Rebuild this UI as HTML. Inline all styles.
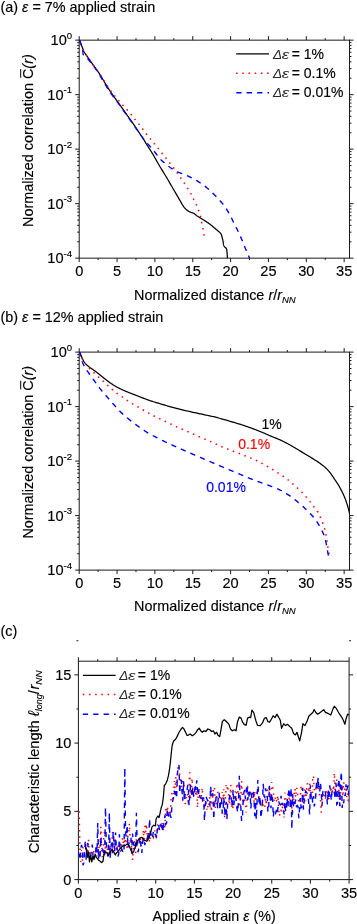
<!DOCTYPE html><html><head><meta charset="utf-8"><style>html,body{margin:0;padding:0;background:#fff;}svg{display:block;will-change:transform;}text{font-family:"Liberation Sans",sans-serif;stroke:#000;stroke-width:0.15px;}text[fill="#ff0000"]{stroke:#ff0000;}text[fill="#0000ff"]{stroke:#0000ff;}text[fill="#2a2a2a"]{stroke:none;}</style></head><body>
<svg width="357" height="924" viewBox="0 0 357 924">
<rect width="357" height="924" fill="#fff"/>
<defs><clipPath id="ca"><rect x="79.2" y="40.15" width="270.3" height="218.0"/></clipPath><clipPath id="cb"><rect x="79.2" y="352.1" width="270.3" height="218.0"/></clipPath><clipPath id="cc"><rect x="78.4" y="661.2" width="270.69000000000005" height="218.39999999999998"/></clipPath></defs>
<text x="0.50" y="12.10" font-size="14.4" text-anchor="start" fill="#000">(a) <tspan font-style="italic">ε</tspan> = 7% applied strain</text>
<rect x="79.20" y="40.15" width="270.30" height="218.00" fill="none" stroke="#1a1a1a" stroke-width="1"/>
<line x1="79.20" y1="258.15" x2="79.20" y2="262.15" stroke="#1a1a1a" stroke-width="1"/>
<line x1="79.20" y1="40.15" x2="79.20" y2="36.15" stroke="#1a1a1a" stroke-width="1"/>
<line x1="117.05" y1="258.15" x2="117.05" y2="262.15" stroke="#1a1a1a" stroke-width="1"/>
<line x1="117.05" y1="40.15" x2="117.05" y2="36.15" stroke="#1a1a1a" stroke-width="1"/>
<line x1="154.90" y1="258.15" x2="154.90" y2="262.15" stroke="#1a1a1a" stroke-width="1"/>
<line x1="154.90" y1="40.15" x2="154.90" y2="36.15" stroke="#1a1a1a" stroke-width="1"/>
<line x1="192.75" y1="258.15" x2="192.75" y2="262.15" stroke="#1a1a1a" stroke-width="1"/>
<line x1="192.75" y1="40.15" x2="192.75" y2="36.15" stroke="#1a1a1a" stroke-width="1"/>
<line x1="230.60" y1="258.15" x2="230.60" y2="262.15" stroke="#1a1a1a" stroke-width="1"/>
<line x1="230.60" y1="40.15" x2="230.60" y2="36.15" stroke="#1a1a1a" stroke-width="1"/>
<line x1="268.45" y1="258.15" x2="268.45" y2="262.15" stroke="#1a1a1a" stroke-width="1"/>
<line x1="268.45" y1="40.15" x2="268.45" y2="36.15" stroke="#1a1a1a" stroke-width="1"/>
<line x1="306.30" y1="258.15" x2="306.30" y2="262.15" stroke="#1a1a1a" stroke-width="1"/>
<line x1="306.30" y1="40.15" x2="306.30" y2="36.15" stroke="#1a1a1a" stroke-width="1"/>
<line x1="344.15" y1="258.15" x2="344.15" y2="262.15" stroke="#1a1a1a" stroke-width="1"/>
<line x1="344.15" y1="40.15" x2="344.15" y2="36.15" stroke="#1a1a1a" stroke-width="1"/>
<line x1="98.12" y1="258.15" x2="98.12" y2="260.15" stroke="#1a1a1a" stroke-width="1"/>
<line x1="98.12" y1="40.15" x2="98.12" y2="38.15" stroke="#1a1a1a" stroke-width="1"/>
<line x1="135.98" y1="258.15" x2="135.98" y2="260.15" stroke="#1a1a1a" stroke-width="1"/>
<line x1="135.98" y1="40.15" x2="135.98" y2="38.15" stroke="#1a1a1a" stroke-width="1"/>
<line x1="173.82" y1="258.15" x2="173.82" y2="260.15" stroke="#1a1a1a" stroke-width="1"/>
<line x1="173.82" y1="40.15" x2="173.82" y2="38.15" stroke="#1a1a1a" stroke-width="1"/>
<line x1="211.68" y1="258.15" x2="211.68" y2="260.15" stroke="#1a1a1a" stroke-width="1"/>
<line x1="211.68" y1="40.15" x2="211.68" y2="38.15" stroke="#1a1a1a" stroke-width="1"/>
<line x1="249.53" y1="258.15" x2="249.53" y2="260.15" stroke="#1a1a1a" stroke-width="1"/>
<line x1="249.53" y1="40.15" x2="249.53" y2="38.15" stroke="#1a1a1a" stroke-width="1"/>
<line x1="287.38" y1="258.15" x2="287.38" y2="260.15" stroke="#1a1a1a" stroke-width="1"/>
<line x1="287.38" y1="40.15" x2="287.38" y2="38.15" stroke="#1a1a1a" stroke-width="1"/>
<line x1="325.23" y1="258.15" x2="325.23" y2="260.15" stroke="#1a1a1a" stroke-width="1"/>
<line x1="325.23" y1="40.15" x2="325.23" y2="38.15" stroke="#1a1a1a" stroke-width="1"/>
<line x1="79.20" y1="40.15" x2="75.20" y2="40.15" stroke="#1a1a1a" stroke-width="1"/>
<line x1="349.50" y1="40.15" x2="353.50" y2="40.15" stroke="#1a1a1a" stroke-width="1"/>
<line x1="79.20" y1="94.65" x2="75.20" y2="94.65" stroke="#1a1a1a" stroke-width="1"/>
<line x1="349.50" y1="94.65" x2="353.50" y2="94.65" stroke="#1a1a1a" stroke-width="1"/>
<line x1="79.20" y1="149.15" x2="75.20" y2="149.15" stroke="#1a1a1a" stroke-width="1"/>
<line x1="349.50" y1="149.15" x2="353.50" y2="149.15" stroke="#1a1a1a" stroke-width="1"/>
<line x1="79.20" y1="203.65" x2="75.20" y2="203.65" stroke="#1a1a1a" stroke-width="1"/>
<line x1="349.50" y1="203.65" x2="353.50" y2="203.65" stroke="#1a1a1a" stroke-width="1"/>
<line x1="79.20" y1="258.15" x2="75.20" y2="258.15" stroke="#1a1a1a" stroke-width="1"/>
<line x1="349.50" y1="258.15" x2="353.50" y2="258.15" stroke="#1a1a1a" stroke-width="1"/>
<line x1="79.20" y1="78.24" x2="77.20" y2="78.24" stroke="#1a1a1a" stroke-width="1"/>
<line x1="349.50" y1="78.24" x2="351.50" y2="78.24" stroke="#1a1a1a" stroke-width="1"/>
<line x1="79.20" y1="68.65" x2="77.20" y2="68.65" stroke="#1a1a1a" stroke-width="1"/>
<line x1="349.50" y1="68.65" x2="351.50" y2="68.65" stroke="#1a1a1a" stroke-width="1"/>
<line x1="79.20" y1="61.84" x2="77.20" y2="61.84" stroke="#1a1a1a" stroke-width="1"/>
<line x1="349.50" y1="61.84" x2="351.50" y2="61.84" stroke="#1a1a1a" stroke-width="1"/>
<line x1="79.20" y1="56.56" x2="77.20" y2="56.56" stroke="#1a1a1a" stroke-width="1"/>
<line x1="349.50" y1="56.56" x2="351.50" y2="56.56" stroke="#1a1a1a" stroke-width="1"/>
<line x1="79.20" y1="52.24" x2="77.20" y2="52.24" stroke="#1a1a1a" stroke-width="1"/>
<line x1="349.50" y1="52.24" x2="351.50" y2="52.24" stroke="#1a1a1a" stroke-width="1"/>
<line x1="79.20" y1="48.59" x2="77.20" y2="48.59" stroke="#1a1a1a" stroke-width="1"/>
<line x1="349.50" y1="48.59" x2="351.50" y2="48.59" stroke="#1a1a1a" stroke-width="1"/>
<line x1="79.20" y1="45.43" x2="77.20" y2="45.43" stroke="#1a1a1a" stroke-width="1"/>
<line x1="349.50" y1="45.43" x2="351.50" y2="45.43" stroke="#1a1a1a" stroke-width="1"/>
<line x1="79.20" y1="42.64" x2="77.20" y2="42.64" stroke="#1a1a1a" stroke-width="1"/>
<line x1="349.50" y1="42.64" x2="351.50" y2="42.64" stroke="#1a1a1a" stroke-width="1"/>
<line x1="79.20" y1="132.74" x2="77.20" y2="132.74" stroke="#1a1a1a" stroke-width="1"/>
<line x1="349.50" y1="132.74" x2="351.50" y2="132.74" stroke="#1a1a1a" stroke-width="1"/>
<line x1="79.20" y1="123.15" x2="77.20" y2="123.15" stroke="#1a1a1a" stroke-width="1"/>
<line x1="349.50" y1="123.15" x2="351.50" y2="123.15" stroke="#1a1a1a" stroke-width="1"/>
<line x1="79.20" y1="116.34" x2="77.20" y2="116.34" stroke="#1a1a1a" stroke-width="1"/>
<line x1="349.50" y1="116.34" x2="351.50" y2="116.34" stroke="#1a1a1a" stroke-width="1"/>
<line x1="79.20" y1="111.06" x2="77.20" y2="111.06" stroke="#1a1a1a" stroke-width="1"/>
<line x1="349.50" y1="111.06" x2="351.50" y2="111.06" stroke="#1a1a1a" stroke-width="1"/>
<line x1="79.20" y1="106.74" x2="77.20" y2="106.74" stroke="#1a1a1a" stroke-width="1"/>
<line x1="349.50" y1="106.74" x2="351.50" y2="106.74" stroke="#1a1a1a" stroke-width="1"/>
<line x1="79.20" y1="103.09" x2="77.20" y2="103.09" stroke="#1a1a1a" stroke-width="1"/>
<line x1="349.50" y1="103.09" x2="351.50" y2="103.09" stroke="#1a1a1a" stroke-width="1"/>
<line x1="79.20" y1="99.93" x2="77.20" y2="99.93" stroke="#1a1a1a" stroke-width="1"/>
<line x1="349.50" y1="99.93" x2="351.50" y2="99.93" stroke="#1a1a1a" stroke-width="1"/>
<line x1="79.20" y1="97.14" x2="77.20" y2="97.14" stroke="#1a1a1a" stroke-width="1"/>
<line x1="349.50" y1="97.14" x2="351.50" y2="97.14" stroke="#1a1a1a" stroke-width="1"/>
<line x1="79.20" y1="187.24" x2="77.20" y2="187.24" stroke="#1a1a1a" stroke-width="1"/>
<line x1="349.50" y1="187.24" x2="351.50" y2="187.24" stroke="#1a1a1a" stroke-width="1"/>
<line x1="79.20" y1="177.65" x2="77.20" y2="177.65" stroke="#1a1a1a" stroke-width="1"/>
<line x1="349.50" y1="177.65" x2="351.50" y2="177.65" stroke="#1a1a1a" stroke-width="1"/>
<line x1="79.20" y1="170.84" x2="77.20" y2="170.84" stroke="#1a1a1a" stroke-width="1"/>
<line x1="349.50" y1="170.84" x2="351.50" y2="170.84" stroke="#1a1a1a" stroke-width="1"/>
<line x1="79.20" y1="165.56" x2="77.20" y2="165.56" stroke="#1a1a1a" stroke-width="1"/>
<line x1="349.50" y1="165.56" x2="351.50" y2="165.56" stroke="#1a1a1a" stroke-width="1"/>
<line x1="79.20" y1="161.24" x2="77.20" y2="161.24" stroke="#1a1a1a" stroke-width="1"/>
<line x1="349.50" y1="161.24" x2="351.50" y2="161.24" stroke="#1a1a1a" stroke-width="1"/>
<line x1="79.20" y1="157.59" x2="77.20" y2="157.59" stroke="#1a1a1a" stroke-width="1"/>
<line x1="349.50" y1="157.59" x2="351.50" y2="157.59" stroke="#1a1a1a" stroke-width="1"/>
<line x1="79.20" y1="154.43" x2="77.20" y2="154.43" stroke="#1a1a1a" stroke-width="1"/>
<line x1="349.50" y1="154.43" x2="351.50" y2="154.43" stroke="#1a1a1a" stroke-width="1"/>
<line x1="79.20" y1="151.64" x2="77.20" y2="151.64" stroke="#1a1a1a" stroke-width="1"/>
<line x1="349.50" y1="151.64" x2="351.50" y2="151.64" stroke="#1a1a1a" stroke-width="1"/>
<line x1="79.20" y1="241.74" x2="77.20" y2="241.74" stroke="#1a1a1a" stroke-width="1"/>
<line x1="349.50" y1="241.74" x2="351.50" y2="241.74" stroke="#1a1a1a" stroke-width="1"/>
<line x1="79.20" y1="232.15" x2="77.20" y2="232.15" stroke="#1a1a1a" stroke-width="1"/>
<line x1="349.50" y1="232.15" x2="351.50" y2="232.15" stroke="#1a1a1a" stroke-width="1"/>
<line x1="79.20" y1="225.34" x2="77.20" y2="225.34" stroke="#1a1a1a" stroke-width="1"/>
<line x1="349.50" y1="225.34" x2="351.50" y2="225.34" stroke="#1a1a1a" stroke-width="1"/>
<line x1="79.20" y1="220.06" x2="77.20" y2="220.06" stroke="#1a1a1a" stroke-width="1"/>
<line x1="349.50" y1="220.06" x2="351.50" y2="220.06" stroke="#1a1a1a" stroke-width="1"/>
<line x1="79.20" y1="215.74" x2="77.20" y2="215.74" stroke="#1a1a1a" stroke-width="1"/>
<line x1="349.50" y1="215.74" x2="351.50" y2="215.74" stroke="#1a1a1a" stroke-width="1"/>
<line x1="79.20" y1="212.09" x2="77.20" y2="212.09" stroke="#1a1a1a" stroke-width="1"/>
<line x1="349.50" y1="212.09" x2="351.50" y2="212.09" stroke="#1a1a1a" stroke-width="1"/>
<line x1="79.20" y1="208.93" x2="77.20" y2="208.93" stroke="#1a1a1a" stroke-width="1"/>
<line x1="349.50" y1="208.93" x2="351.50" y2="208.93" stroke="#1a1a1a" stroke-width="1"/>
<line x1="79.20" y1="206.14" x2="77.20" y2="206.14" stroke="#1a1a1a" stroke-width="1"/>
<line x1="349.50" y1="206.14" x2="351.50" y2="206.14" stroke="#1a1a1a" stroke-width="1"/>
<text y="45.05" x="72.1" font-size="14.6" text-anchor="end">10<tspan font-size="9.6" dy="-6.3">0</tspan></text>
<text y="99.55" x="72.1" font-size="14.6" text-anchor="end">10<tspan font-size="9.6" dy="-6.3">-1</tspan></text>
<text y="154.05" x="72.1" font-size="14.6" text-anchor="end">10<tspan font-size="9.6" dy="-6.3">-2</tspan></text>
<text y="208.55" x="72.1" font-size="14.6" text-anchor="end">10<tspan font-size="9.6" dy="-6.3">-3</tspan></text>
<text y="263.05" x="72.1" font-size="14.6" text-anchor="end">10<tspan font-size="9.6" dy="-6.3">-4</tspan></text>
<text x="79.20" y="276.40" font-size="14.6" text-anchor="middle" fill="#000">0</text>
<text x="117.05" y="276.40" font-size="14.6" text-anchor="middle" fill="#000">5</text>
<text x="154.90" y="276.40" font-size="14.6" text-anchor="middle" fill="#000">10</text>
<text x="192.75" y="276.40" font-size="14.6" text-anchor="middle" fill="#000">15</text>
<text x="230.60" y="276.40" font-size="14.6" text-anchor="middle" fill="#000">20</text>
<text x="268.45" y="276.40" font-size="14.6" text-anchor="middle" fill="#000">25</text>
<text x="306.30" y="276.40" font-size="14.6" text-anchor="middle" fill="#000">30</text>
<text x="344.15" y="276.40" font-size="14.6" text-anchor="middle" fill="#000">35</text>
<text x="134.00" y="299.60" font-size="14.4" text-anchor="start" fill="#000">Normalized distance <tspan font-style="italic">r</tspan>/<tspan font-style="italic">r</tspan><tspan font-size="9.5" font-style="italic" dy="3">NN</tspan></text>
<g transform="translate(33.00,227.00) rotate(-90)"><text x="0" y="0" font-size="14.4">Normalized correlation C<tspan font-style="italic">(r)</tspan></text><line x1="149.26" y1="-12.30" x2="157.86" y2="-12.30" stroke="#000" stroke-width="1"/></g>
<path d="M79.60,40.15 L79.68,40.37 L79.78,40.67 L79.90,41.02 L80.04,41.41 L80.18,41.82 L80.33,42.24 L80.47,42.64 L80.60,43.00 L80.72,43.33 L80.84,43.65 L80.96,43.96 L81.08,44.27 L81.20,44.58 L81.33,44.91 L81.46,45.24 L81.60,45.60 L81.75,45.98 L81.91,46.39 L82.07,46.80 L82.24,47.23 L82.41,47.66 L82.58,48.09 L82.74,48.50 L82.90,48.90 L83.05,49.28 L83.19,49.65 L83.32,50.00 L83.45,50.36 L83.59,50.71 L83.74,51.06 L83.91,51.43 L84.10,51.80 L84.31,52.17 L84.53,52.54 L84.76,52.91 L85.01,53.28 L85.28,53.67 L85.56,54.08 L85.87,54.52 L86.20,55.00 L86.55,55.51 L86.92,56.03 L87.31,56.58 L87.72,57.15 L88.15,57.75 L88.61,58.39 L89.09,59.07 L89.60,59.80 L90.16,60.60 L90.76,61.48 L91.41,62.41 L92.07,63.37 L92.74,64.33 L93.39,65.28 L94.02,66.17 L94.60,67.00 L95.14,67.74 L95.64,68.41 L96.12,69.04 L96.59,69.65 L97.05,70.26 L97.52,70.89 L98.00,71.56 L98.50,72.30 L99.01,73.08 L99.50,73.87 L99.99,74.67 L100.50,75.51 L101.03,76.40 L101.60,77.35 L102.22,78.38 L102.90,79.50 L103.64,80.72 L104.43,82.03 L105.25,83.41 L106.12,84.86 L107.04,86.35 L107.99,87.88 L108.97,89.44 L110.00,91.00 L111.10,92.61 L112.28,94.30 L113.51,96.05 L114.78,97.81 L116.05,99.57 L117.30,101.29 L118.49,102.94 L119.60,104.50 L120.62,105.95 L121.58,107.31 L122.50,108.60 L123.38,109.86 L124.26,111.10 L125.14,112.35 L126.05,113.65 L127.00,115.00 L128.01,116.42 L129.05,117.90 L130.12,119.40 L131.19,120.92 L132.27,122.44 L133.32,123.93 L134.33,125.39 L135.30,126.80 L136.22,128.16 L137.10,129.48 L137.96,130.77 L138.79,132.04 L139.61,133.30 L140.41,134.54 L141.21,135.77 L142.00,137.00 L142.79,138.23 L143.57,139.46 L144.35,140.68 L145.11,141.89 L145.85,143.08 L146.59,144.25 L147.30,145.39 L148.00,146.50 L148.66,147.55 L149.28,148.52 L149.87,149.45 L150.46,150.36 L151.04,151.29 L151.65,152.28 L152.30,153.33 L153.00,154.50 L153.76,155.80 L154.56,157.20 L155.41,158.68 L156.27,160.21 L157.14,161.75 L158.01,163.29 L158.87,164.78 L159.70,166.20 L160.51,167.55 L161.31,168.87 L162.10,170.17 L162.89,171.44 L163.68,172.70 L164.46,173.96 L165.23,175.22 L166.00,176.50 L166.76,177.78 L167.50,179.04 L168.23,180.30 L168.96,181.56 L169.70,182.83 L170.44,184.12 L171.21,185.44 L172.00,186.80 L172.83,188.23 L173.71,189.73 L174.61,191.27 L175.52,192.83 L176.42,194.37 L177.29,195.87 L178.13,197.29 L178.90,198.60 L179.61,199.82 L180.27,200.99 L180.88,202.10 L181.48,203.16 L182.05,204.15 L182.62,205.09 L183.20,205.98 L183.80,206.80 L184.41,207.56 L185.03,208.24 L185.64,208.87 L186.25,209.44 L186.86,209.96 L187.47,210.44 L188.09,210.88 L188.70,211.30 L189.32,211.66 L189.95,211.95 L190.58,212.19 L191.21,212.40 L191.84,212.59 L192.45,212.80 L193.04,213.02 L193.60,213.30 L194.13,213.62 L194.62,213.96 L195.09,214.31 L195.54,214.68 L196.00,215.06 L196.47,215.44 L196.97,215.82 L197.50,216.20 L198.07,216.58 L198.68,216.96 L199.30,217.35 L199.94,217.74 L200.58,218.13 L201.23,218.52 L201.87,218.91 L202.50,219.30 L203.12,219.69 L203.76,220.08 L204.39,220.47 L205.02,220.86 L205.64,221.25 L206.25,221.64 L206.84,222.02 L207.40,222.40 L207.94,222.77 L208.45,223.13 L208.94,223.48 L209.41,223.84 L209.88,224.19 L210.35,224.55 L210.82,224.92 L211.30,225.30 L211.79,225.69 L212.28,226.10 L212.77,226.51 L213.26,226.93 L213.74,227.35 L214.23,227.77 L214.72,228.19 L215.20,228.60 L215.69,229.01 L216.20,229.43 L216.71,229.85 L217.21,230.26 L217.70,230.67 L218.17,231.07 L218.61,231.44 L219.00,231.80 L219.35,232.12 L219.67,232.40 L219.95,232.66 L220.21,232.91 L220.45,233.16 L220.68,233.43 L220.89,233.74 L221.10,234.10 L221.30,234.52 L221.47,234.98 L221.64,235.48 L221.79,236.01 L221.93,236.53 L222.06,237.05 L222.18,237.54 L222.30,238.00 L222.41,238.41 L222.51,238.79 L222.60,239.14 L222.68,239.49 L222.76,239.83 L222.84,240.19 L222.92,240.58 L223.00,241.00 L223.08,241.47 L223.16,241.99 L223.24,242.54 L223.31,243.10 L223.39,243.65 L223.48,244.18 L223.58,244.67 L223.70,245.10 L223.83,245.47 L223.98,245.80 L224.14,246.10 L224.31,246.38 L224.48,246.62 L224.65,246.86 L224.83,247.08 L225.00,247.30 L225.18,247.49 L225.36,247.64 L225.55,247.76 L225.74,247.88 L225.93,248.00 L226.10,248.15 L226.26,248.34 L226.40,248.60 L226.51,248.90 L226.61,249.23 L226.69,249.58 L226.76,249.97 L226.82,250.40 L226.88,250.88 L226.94,251.41 L227.00,252.00 L227.07,252.72 L227.14,253.58 L227.22,254.53 L227.29,255.51 L227.35,256.47 L227.41,257.34 L227.46,258.07 L227.50,258.60" fill="none" stroke="#000000" stroke-width="1.25" stroke-linejoin="round" clip-path="url(#ca)"/>
<path d="M204.20,235.50 L204.18,235.43 L204.16,235.38 L204.14,235.32 L204.12,235.23 L204.08,235.10 L204.04,234.89 L203.98,234.60 L203.90,234.20 L203.80,233.67 L203.68,233.01 L203.55,232.27 L203.41,231.46 L203.25,230.61 L203.10,229.74 L202.95,228.90 L202.80,228.10 L202.66,227.33 L202.51,226.56 L202.36,225.78 L202.21,225.01 L202.06,224.23 L201.91,223.45 L201.76,222.68 L201.60,221.90 L201.45,221.12 L201.30,220.34 L201.15,219.56 L200.99,218.78 L200.84,218.00 L200.67,217.23 L200.49,216.46 L200.30,215.70 L200.09,214.95 L199.88,214.20 L199.65,213.46 L199.42,212.73 L199.18,211.99 L198.92,211.26 L198.67,210.53 L198.40,209.80 L198.13,209.07 L197.84,208.34 L197.55,207.61 L197.26,206.88 L196.95,206.16 L196.64,205.43 L196.32,204.71 L196.00,204.00 L195.67,203.29 L195.32,202.58 L194.97,201.87 L194.61,201.17 L194.25,200.47 L193.90,199.77 L193.54,199.08 L193.20,198.40 L192.87,197.72 L192.55,197.06 L192.25,196.39 L191.94,195.74 L191.62,195.08 L191.30,194.43 L190.96,193.77 L190.60,193.10 L190.21,192.43 L189.81,191.76 L189.39,191.08 L188.96,190.41 L188.52,189.73 L188.08,189.05 L187.64,188.38 L187.20,187.70 L186.77,187.02 L186.33,186.34 L185.89,185.65 L185.45,184.97 L185.01,184.29 L184.57,183.61 L184.13,182.95 L183.70,182.30 L183.27,181.67 L182.85,181.06 L182.44,180.46 L182.03,179.86 L181.61,179.27 L181.18,178.66 L180.75,178.04 L180.30,177.40 L179.84,176.73 L179.36,176.05 L178.87,175.35 L178.38,174.64 L177.88,173.92 L177.39,173.21 L176.89,172.50 L176.40,171.80 L175.94,171.14 L175.52,170.52 L175.11,169.92 L174.70,169.31 L174.26,168.67 L173.76,167.98 L173.18,167.19 L172.50,166.30 L171.70,165.28 L170.80,164.15 L169.83,162.94 L168.79,161.67 L167.73,160.36 L166.66,159.05 L165.61,157.75 L164.60,156.50 L163.63,155.28 L162.67,154.07 L161.72,152.86 L160.76,151.66 L159.80,150.44 L158.83,149.21 L157.83,147.97 L156.80,146.70 L155.73,145.39 L154.60,144.05 L153.45,142.68 L152.28,141.30 L151.12,139.93 L150.00,138.58 L148.91,137.26 L147.90,136.00 L146.95,134.78 L146.06,133.60 L145.20,132.43 L144.38,131.30 L143.58,130.19 L142.79,129.10 L142.00,128.04 L141.20,127.00 L140.40,125.99 L139.60,125.01 L138.81,124.06 L138.03,123.13 L137.26,122.22 L136.50,121.31 L135.74,120.41 L135.00,119.50 L134.30,118.62 L133.65,117.77 L133.02,116.95 L132.40,116.13 L131.75,115.29 L131.05,114.40 L130.28,113.44 L129.40,112.40 L128.40,111.25 L127.28,110.01 L126.09,108.70 L124.85,107.35 L123.59,105.98 L122.34,104.61 L121.13,103.28 L120.00,102.00 L118.93,100.78 L117.88,99.59 L116.86,98.42 L115.86,97.26 L114.87,96.10 L113.90,94.92 L112.95,93.73 L112.00,92.50 L111.06,91.23 L110.15,89.93 L109.24,88.60 L108.35,87.26 L107.47,85.92 L106.60,84.59 L105.75,83.28 L104.90,82.00 L104.05,80.72 L103.19,79.42 L102.34,78.11 L101.50,76.82 L100.69,75.58 L99.91,74.40 L99.18,73.30 L98.50,72.30 L97.90,71.44 L97.37,70.71 L96.90,70.07 L96.46,69.49 L96.03,68.93 L95.59,68.36 L95.12,67.72 L94.60,67.00 L94.02,66.17 L93.39,65.28 L92.74,64.33 L92.07,63.37 L91.41,62.41 L90.76,61.48 L90.16,60.60 L89.60,59.80 L89.09,59.07 L88.61,58.39 L88.15,57.75 L87.72,57.15 L87.31,56.58 L86.92,56.03 L86.55,55.51 L86.20,55.00 L85.87,54.52 L85.56,54.08 L85.28,53.67 L85.01,53.28 L84.76,52.91 L84.53,52.54 L84.31,52.17 L84.10,51.80 L83.91,51.43 L83.74,51.06 L83.59,50.71 L83.45,50.36 L83.32,50.00 L83.19,49.65 L83.05,49.28 L82.90,48.90 L82.74,48.50 L82.58,48.09 L82.41,47.66 L82.24,47.23 L82.07,46.80 L81.91,46.39 L81.75,45.98 L81.60,45.60 L81.46,45.24 L81.33,44.91 L81.20,44.58 L81.08,44.27 L80.96,43.96 L80.84,43.65 L80.72,43.33 L80.60,43.00 L80.47,42.64 L80.33,42.24 L80.18,41.82 L80.04,41.41 L79.90,41.02 L79.78,40.67 L79.68,40.37 L79.60,40.15" fill="none" stroke="#ff0000" stroke-width="1.5" stroke-dasharray="1.5 4.7" clip-path="url(#ca)"/>
<path d="M79.60,40.15 L79.69,40.41 L79.81,40.74 L79.95,41.15 L80.11,41.59 L80.28,42.07 L80.45,42.56 L80.63,43.04 L80.80,43.50 L80.98,43.95 L81.18,44.40 L81.38,44.86 L81.59,45.32 L81.80,45.79 L81.99,46.26 L82.16,46.73 L82.30,47.20 L82.41,47.67 L82.50,48.15 L82.56,48.63 L82.61,49.11 L82.66,49.59 L82.70,50.06 L82.74,50.53 L82.80,51.00 L82.85,51.47 L82.90,51.96 L82.93,52.45 L82.97,52.93 L83.02,53.40 L83.09,53.84 L83.18,54.24 L83.30,54.60 L83.45,54.90 L83.62,55.15 L83.81,55.35 L84.02,55.54 L84.25,55.71 L84.49,55.88 L84.74,56.08 L85.00,56.30 L85.27,56.53 L85.54,56.76 L85.82,56.98 L86.12,57.21 L86.43,57.47 L86.76,57.76 L87.12,58.10 L87.50,58.50 L87.92,58.97 L88.37,59.51 L88.85,60.10 L89.35,60.73 L89.85,61.36 L90.35,62.00 L90.84,62.62 L91.30,63.20 L91.73,63.73 L92.13,64.23 L92.53,64.71 L92.91,65.19 L93.30,65.69 L93.71,66.21 L94.14,66.77 L94.60,67.40 L95.09,68.08 L95.61,68.79 L96.14,69.54 L96.69,70.32 L97.26,71.13 L97.83,71.99 L98.41,72.87 L99.00,73.80 L99.58,74.76 L100.16,75.76 L100.74,76.79 L101.34,77.86 L101.95,78.97 L102.60,80.11 L103.28,81.29 L104.00,82.50 L104.77,83.76 L105.57,85.08 L106.41,86.43 L107.27,87.83 L108.17,89.24 L109.09,90.66 L110.03,92.09 L111.00,93.50 L112.01,94.92 L113.07,96.36 L114.16,97.82 L115.28,99.28 L116.39,100.74 L117.50,102.18 L118.57,103.61 L119.60,105.00 L120.58,106.35 L121.51,107.66 L122.42,108.95 L123.32,110.23 L124.21,111.51 L125.11,112.81 L126.04,114.13 L127.00,115.50 L128.02,116.95 L129.10,118.48 L130.20,120.05 L131.32,121.64 L132.41,123.19 L133.46,124.68 L134.43,126.06 L135.30,127.30 L136.05,128.37 L136.70,129.31 L137.27,130.14 L137.79,130.90 L138.30,131.63 L138.82,132.37 L139.37,133.14 L140.00,134.00 L140.68,134.92 L141.39,135.87 L142.12,136.84 L142.87,137.83 L143.63,138.83 L144.41,139.82 L145.20,140.82 L146.00,141.80 L146.80,142.76 L147.62,143.70 L148.44,144.64 L149.28,145.58 L150.13,146.53 L151.00,147.51 L151.89,148.53 L152.80,149.60 L153.74,150.75 L154.70,151.98 L155.69,153.26 L156.69,154.56 L157.70,155.85 L158.71,157.11 L159.71,158.30 L160.70,159.40 L161.68,160.41 L162.65,161.38 L163.63,162.29 L164.60,163.16 L165.57,163.99 L166.55,164.78 L167.52,165.55 L168.50,166.30 L169.50,167.03 L170.52,167.72 L171.56,168.39 L172.59,169.03 L173.60,169.63 L174.58,170.20 L175.52,170.72 L176.40,171.20 L177.21,171.62 L177.95,171.97 L178.65,172.28 L179.31,172.55 L179.96,172.80 L180.62,173.05 L181.29,173.31 L182.00,173.60 L182.71,173.89 L183.40,174.15 L184.09,174.41 L184.79,174.67 L185.52,174.95 L186.30,175.28 L187.16,175.65 L188.10,176.10 L189.16,176.63 L190.33,177.22 L191.59,177.87 L192.89,178.56 L194.20,179.27 L195.50,180.00 L196.74,180.71 L197.90,181.40 L198.98,182.07 L200.01,182.72 L201.01,183.38 L201.98,184.04 L202.93,184.71 L203.88,185.41 L204.83,186.13 L205.80,186.90 L206.79,187.72 L207.79,188.58 L208.80,189.47 L209.81,190.39 L210.80,191.31 L211.76,192.23 L212.70,193.13 L213.60,194.00 L214.47,194.85 L215.31,195.70 L216.13,196.55 L216.92,197.38 L217.69,198.20 L218.43,198.99 L219.13,199.76 L219.80,200.50 L220.42,201.19 L220.99,201.82 L221.52,202.42 L222.03,203.01 L222.51,203.59 L223.00,204.19 L223.49,204.82 L224.00,205.50 L224.53,206.24 L225.07,207.01 L225.61,207.81 L226.16,208.63 L226.69,209.46 L227.21,210.29 L227.72,211.10 L228.20,211.90 L228.66,212.67 L229.10,213.44 L229.52,214.19 L229.92,214.94 L230.32,215.70 L230.72,216.45 L231.11,217.22 L231.50,218.00 L231.89,218.80 L232.27,219.62 L232.65,220.45 L233.02,221.29 L233.39,222.12 L233.76,222.94 L234.13,223.73 L234.50,224.50 L234.88,225.23 L235.26,225.94 L235.64,226.63 L236.03,227.30 L236.40,227.97 L236.78,228.63 L237.14,229.31 L237.50,230.00 L237.84,230.70 L238.18,231.41 L238.51,232.12 L238.83,232.83 L239.15,233.55 L239.47,234.26 L239.78,234.98 L240.10,235.70 L240.42,236.42 L240.73,237.14 L241.05,237.85 L241.36,238.57 L241.67,239.30 L241.98,240.03 L242.29,240.76 L242.60,241.50 L242.91,242.26 L243.21,243.03 L243.52,243.82 L243.82,244.61 L244.12,245.39 L244.42,246.15 L244.71,246.89 L245.00,247.60 L245.29,248.27 L245.57,248.91 L245.85,249.53 L246.12,250.12 L246.40,250.72 L246.67,251.30 L246.94,251.90 L247.20,252.50 L247.47,253.14 L247.75,253.81 L248.03,254.49 L248.31,255.17 L248.58,255.82 L248.82,256.42 L249.03,256.95 L249.20,257.40 L249.33,257.75 L249.42,258.03 L249.48,258.24 L249.52,258.41 L249.55,258.53 L249.57,258.63 L249.58,258.72 L249.60,258.80" fill="none" stroke="#0000ff" stroke-width="1.4" stroke-dasharray="5.3 5.1" clip-path="url(#ca)"/>
<line x1="236.20" y1="53.80" x2="269.00" y2="53.80" stroke="#000000" stroke-width="1.3"/>
<line x1="236.10" y1="73.30" x2="269.00" y2="73.30" stroke="#ff0000" stroke-width="1.5" stroke-dasharray="1.5 4.7"/>
<line x1="236.30" y1="92.70" x2="269.00" y2="92.70" stroke="#0000ff" stroke-width="1.4" stroke-dasharray="5.3 5.1"/>
<text x="273.10" y="58.60" font-size="13.5" font-family="Liberation Serif, serif" font-style="italic" fill="#2a2a2a">Δ</text><text transform="translate(281.70,58.60) scale(1.2,0.92)" font-size="14" font-family="Liberation Serif, serif" font-style="italic" fill="#2a2a2a">ε</text><text x="291.65" y="58.60" font-size="14">= 1%</text>
<text x="273.10" y="78.00" font-size="13.5" font-family="Liberation Serif, serif" font-style="italic" fill="#2a2a2a">Δ</text><text transform="translate(281.70,78.00) scale(1.2,0.92)" font-size="14" font-family="Liberation Serif, serif" font-style="italic" fill="#2a2a2a">ε</text><text x="291.65" y="78.00" font-size="14">= 0.1%</text>
<text x="273.10" y="97.10" font-size="13.5" font-family="Liberation Serif, serif" font-style="italic" fill="#2a2a2a">Δ</text><text transform="translate(281.70,97.10) scale(1.2,0.92)" font-size="14" font-family="Liberation Serif, serif" font-style="italic" fill="#2a2a2a">ε</text><text x="291.65" y="97.10" font-size="14">= 0.01%</text>
<text x="0.50" y="322.30" font-size="14.4" text-anchor="start" fill="#000">(b) <tspan font-style="italic">ε</tspan> = 12% applied strain</text>
<rect x="79.20" y="352.10" width="270.30" height="218.00" fill="none" stroke="#1a1a1a" stroke-width="1"/>
<line x1="79.20" y1="570.10" x2="79.20" y2="574.10" stroke="#1a1a1a" stroke-width="1"/>
<line x1="79.20" y1="352.10" x2="79.20" y2="348.10" stroke="#1a1a1a" stroke-width="1"/>
<line x1="117.05" y1="570.10" x2="117.05" y2="574.10" stroke="#1a1a1a" stroke-width="1"/>
<line x1="117.05" y1="352.10" x2="117.05" y2="348.10" stroke="#1a1a1a" stroke-width="1"/>
<line x1="154.90" y1="570.10" x2="154.90" y2="574.10" stroke="#1a1a1a" stroke-width="1"/>
<line x1="154.90" y1="352.10" x2="154.90" y2="348.10" stroke="#1a1a1a" stroke-width="1"/>
<line x1="192.75" y1="570.10" x2="192.75" y2="574.10" stroke="#1a1a1a" stroke-width="1"/>
<line x1="192.75" y1="352.10" x2="192.75" y2="348.10" stroke="#1a1a1a" stroke-width="1"/>
<line x1="230.60" y1="570.10" x2="230.60" y2="574.10" stroke="#1a1a1a" stroke-width="1"/>
<line x1="230.60" y1="352.10" x2="230.60" y2="348.10" stroke="#1a1a1a" stroke-width="1"/>
<line x1="268.45" y1="570.10" x2="268.45" y2="574.10" stroke="#1a1a1a" stroke-width="1"/>
<line x1="268.45" y1="352.10" x2="268.45" y2="348.10" stroke="#1a1a1a" stroke-width="1"/>
<line x1="306.30" y1="570.10" x2="306.30" y2="574.10" stroke="#1a1a1a" stroke-width="1"/>
<line x1="306.30" y1="352.10" x2="306.30" y2="348.10" stroke="#1a1a1a" stroke-width="1"/>
<line x1="344.15" y1="570.10" x2="344.15" y2="574.10" stroke="#1a1a1a" stroke-width="1"/>
<line x1="344.15" y1="352.10" x2="344.15" y2="348.10" stroke="#1a1a1a" stroke-width="1"/>
<line x1="98.12" y1="570.10" x2="98.12" y2="572.10" stroke="#1a1a1a" stroke-width="1"/>
<line x1="98.12" y1="352.10" x2="98.12" y2="350.10" stroke="#1a1a1a" stroke-width="1"/>
<line x1="135.98" y1="570.10" x2="135.98" y2="572.10" stroke="#1a1a1a" stroke-width="1"/>
<line x1="135.98" y1="352.10" x2="135.98" y2="350.10" stroke="#1a1a1a" stroke-width="1"/>
<line x1="173.82" y1="570.10" x2="173.82" y2="572.10" stroke="#1a1a1a" stroke-width="1"/>
<line x1="173.82" y1="352.10" x2="173.82" y2="350.10" stroke="#1a1a1a" stroke-width="1"/>
<line x1="211.68" y1="570.10" x2="211.68" y2="572.10" stroke="#1a1a1a" stroke-width="1"/>
<line x1="211.68" y1="352.10" x2="211.68" y2="350.10" stroke="#1a1a1a" stroke-width="1"/>
<line x1="249.53" y1="570.10" x2="249.53" y2="572.10" stroke="#1a1a1a" stroke-width="1"/>
<line x1="249.53" y1="352.10" x2="249.53" y2="350.10" stroke="#1a1a1a" stroke-width="1"/>
<line x1="287.38" y1="570.10" x2="287.38" y2="572.10" stroke="#1a1a1a" stroke-width="1"/>
<line x1="287.38" y1="352.10" x2="287.38" y2="350.10" stroke="#1a1a1a" stroke-width="1"/>
<line x1="325.23" y1="570.10" x2="325.23" y2="572.10" stroke="#1a1a1a" stroke-width="1"/>
<line x1="325.23" y1="352.10" x2="325.23" y2="350.10" stroke="#1a1a1a" stroke-width="1"/>
<line x1="79.20" y1="352.10" x2="75.20" y2="352.10" stroke="#1a1a1a" stroke-width="1"/>
<line x1="349.50" y1="352.10" x2="353.50" y2="352.10" stroke="#1a1a1a" stroke-width="1"/>
<line x1="79.20" y1="406.60" x2="75.20" y2="406.60" stroke="#1a1a1a" stroke-width="1"/>
<line x1="349.50" y1="406.60" x2="353.50" y2="406.60" stroke="#1a1a1a" stroke-width="1"/>
<line x1="79.20" y1="461.10" x2="75.20" y2="461.10" stroke="#1a1a1a" stroke-width="1"/>
<line x1="349.50" y1="461.10" x2="353.50" y2="461.10" stroke="#1a1a1a" stroke-width="1"/>
<line x1="79.20" y1="515.60" x2="75.20" y2="515.60" stroke="#1a1a1a" stroke-width="1"/>
<line x1="349.50" y1="515.60" x2="353.50" y2="515.60" stroke="#1a1a1a" stroke-width="1"/>
<line x1="79.20" y1="570.10" x2="75.20" y2="570.10" stroke="#1a1a1a" stroke-width="1"/>
<line x1="349.50" y1="570.10" x2="353.50" y2="570.10" stroke="#1a1a1a" stroke-width="1"/>
<line x1="79.20" y1="390.19" x2="77.20" y2="390.19" stroke="#1a1a1a" stroke-width="1"/>
<line x1="349.50" y1="390.19" x2="351.50" y2="390.19" stroke="#1a1a1a" stroke-width="1"/>
<line x1="79.20" y1="380.60" x2="77.20" y2="380.60" stroke="#1a1a1a" stroke-width="1"/>
<line x1="349.50" y1="380.60" x2="351.50" y2="380.60" stroke="#1a1a1a" stroke-width="1"/>
<line x1="79.20" y1="373.79" x2="77.20" y2="373.79" stroke="#1a1a1a" stroke-width="1"/>
<line x1="349.50" y1="373.79" x2="351.50" y2="373.79" stroke="#1a1a1a" stroke-width="1"/>
<line x1="79.20" y1="368.51" x2="77.20" y2="368.51" stroke="#1a1a1a" stroke-width="1"/>
<line x1="349.50" y1="368.51" x2="351.50" y2="368.51" stroke="#1a1a1a" stroke-width="1"/>
<line x1="79.20" y1="364.19" x2="77.20" y2="364.19" stroke="#1a1a1a" stroke-width="1"/>
<line x1="349.50" y1="364.19" x2="351.50" y2="364.19" stroke="#1a1a1a" stroke-width="1"/>
<line x1="79.20" y1="360.54" x2="77.20" y2="360.54" stroke="#1a1a1a" stroke-width="1"/>
<line x1="349.50" y1="360.54" x2="351.50" y2="360.54" stroke="#1a1a1a" stroke-width="1"/>
<line x1="79.20" y1="357.38" x2="77.20" y2="357.38" stroke="#1a1a1a" stroke-width="1"/>
<line x1="349.50" y1="357.38" x2="351.50" y2="357.38" stroke="#1a1a1a" stroke-width="1"/>
<line x1="79.20" y1="354.59" x2="77.20" y2="354.59" stroke="#1a1a1a" stroke-width="1"/>
<line x1="349.50" y1="354.59" x2="351.50" y2="354.59" stroke="#1a1a1a" stroke-width="1"/>
<line x1="79.20" y1="444.69" x2="77.20" y2="444.69" stroke="#1a1a1a" stroke-width="1"/>
<line x1="349.50" y1="444.69" x2="351.50" y2="444.69" stroke="#1a1a1a" stroke-width="1"/>
<line x1="79.20" y1="435.10" x2="77.20" y2="435.10" stroke="#1a1a1a" stroke-width="1"/>
<line x1="349.50" y1="435.10" x2="351.50" y2="435.10" stroke="#1a1a1a" stroke-width="1"/>
<line x1="79.20" y1="428.29" x2="77.20" y2="428.29" stroke="#1a1a1a" stroke-width="1"/>
<line x1="349.50" y1="428.29" x2="351.50" y2="428.29" stroke="#1a1a1a" stroke-width="1"/>
<line x1="79.20" y1="423.01" x2="77.20" y2="423.01" stroke="#1a1a1a" stroke-width="1"/>
<line x1="349.50" y1="423.01" x2="351.50" y2="423.01" stroke="#1a1a1a" stroke-width="1"/>
<line x1="79.20" y1="418.69" x2="77.20" y2="418.69" stroke="#1a1a1a" stroke-width="1"/>
<line x1="349.50" y1="418.69" x2="351.50" y2="418.69" stroke="#1a1a1a" stroke-width="1"/>
<line x1="79.20" y1="415.04" x2="77.20" y2="415.04" stroke="#1a1a1a" stroke-width="1"/>
<line x1="349.50" y1="415.04" x2="351.50" y2="415.04" stroke="#1a1a1a" stroke-width="1"/>
<line x1="79.20" y1="411.88" x2="77.20" y2="411.88" stroke="#1a1a1a" stroke-width="1"/>
<line x1="349.50" y1="411.88" x2="351.50" y2="411.88" stroke="#1a1a1a" stroke-width="1"/>
<line x1="79.20" y1="409.09" x2="77.20" y2="409.09" stroke="#1a1a1a" stroke-width="1"/>
<line x1="349.50" y1="409.09" x2="351.50" y2="409.09" stroke="#1a1a1a" stroke-width="1"/>
<line x1="79.20" y1="499.19" x2="77.20" y2="499.19" stroke="#1a1a1a" stroke-width="1"/>
<line x1="349.50" y1="499.19" x2="351.50" y2="499.19" stroke="#1a1a1a" stroke-width="1"/>
<line x1="79.20" y1="489.60" x2="77.20" y2="489.60" stroke="#1a1a1a" stroke-width="1"/>
<line x1="349.50" y1="489.60" x2="351.50" y2="489.60" stroke="#1a1a1a" stroke-width="1"/>
<line x1="79.20" y1="482.79" x2="77.20" y2="482.79" stroke="#1a1a1a" stroke-width="1"/>
<line x1="349.50" y1="482.79" x2="351.50" y2="482.79" stroke="#1a1a1a" stroke-width="1"/>
<line x1="79.20" y1="477.51" x2="77.20" y2="477.51" stroke="#1a1a1a" stroke-width="1"/>
<line x1="349.50" y1="477.51" x2="351.50" y2="477.51" stroke="#1a1a1a" stroke-width="1"/>
<line x1="79.20" y1="473.19" x2="77.20" y2="473.19" stroke="#1a1a1a" stroke-width="1"/>
<line x1="349.50" y1="473.19" x2="351.50" y2="473.19" stroke="#1a1a1a" stroke-width="1"/>
<line x1="79.20" y1="469.54" x2="77.20" y2="469.54" stroke="#1a1a1a" stroke-width="1"/>
<line x1="349.50" y1="469.54" x2="351.50" y2="469.54" stroke="#1a1a1a" stroke-width="1"/>
<line x1="79.20" y1="466.38" x2="77.20" y2="466.38" stroke="#1a1a1a" stroke-width="1"/>
<line x1="349.50" y1="466.38" x2="351.50" y2="466.38" stroke="#1a1a1a" stroke-width="1"/>
<line x1="79.20" y1="463.59" x2="77.20" y2="463.59" stroke="#1a1a1a" stroke-width="1"/>
<line x1="349.50" y1="463.59" x2="351.50" y2="463.59" stroke="#1a1a1a" stroke-width="1"/>
<line x1="79.20" y1="553.69" x2="77.20" y2="553.69" stroke="#1a1a1a" stroke-width="1"/>
<line x1="349.50" y1="553.69" x2="351.50" y2="553.69" stroke="#1a1a1a" stroke-width="1"/>
<line x1="79.20" y1="544.10" x2="77.20" y2="544.10" stroke="#1a1a1a" stroke-width="1"/>
<line x1="349.50" y1="544.10" x2="351.50" y2="544.10" stroke="#1a1a1a" stroke-width="1"/>
<line x1="79.20" y1="537.29" x2="77.20" y2="537.29" stroke="#1a1a1a" stroke-width="1"/>
<line x1="349.50" y1="537.29" x2="351.50" y2="537.29" stroke="#1a1a1a" stroke-width="1"/>
<line x1="79.20" y1="532.01" x2="77.20" y2="532.01" stroke="#1a1a1a" stroke-width="1"/>
<line x1="349.50" y1="532.01" x2="351.50" y2="532.01" stroke="#1a1a1a" stroke-width="1"/>
<line x1="79.20" y1="527.69" x2="77.20" y2="527.69" stroke="#1a1a1a" stroke-width="1"/>
<line x1="349.50" y1="527.69" x2="351.50" y2="527.69" stroke="#1a1a1a" stroke-width="1"/>
<line x1="79.20" y1="524.04" x2="77.20" y2="524.04" stroke="#1a1a1a" stroke-width="1"/>
<line x1="349.50" y1="524.04" x2="351.50" y2="524.04" stroke="#1a1a1a" stroke-width="1"/>
<line x1="79.20" y1="520.88" x2="77.20" y2="520.88" stroke="#1a1a1a" stroke-width="1"/>
<line x1="349.50" y1="520.88" x2="351.50" y2="520.88" stroke="#1a1a1a" stroke-width="1"/>
<line x1="79.20" y1="518.09" x2="77.20" y2="518.09" stroke="#1a1a1a" stroke-width="1"/>
<line x1="349.50" y1="518.09" x2="351.50" y2="518.09" stroke="#1a1a1a" stroke-width="1"/>
<text y="357.00" x="72.1" font-size="14.6" text-anchor="end">10<tspan font-size="9.6" dy="-6.3">0</tspan></text>
<text y="411.50" x="72.1" font-size="14.6" text-anchor="end">10<tspan font-size="9.6" dy="-6.3">-1</tspan></text>
<text y="466.00" x="72.1" font-size="14.6" text-anchor="end">10<tspan font-size="9.6" dy="-6.3">-2</tspan></text>
<text y="520.50" x="72.1" font-size="14.6" text-anchor="end">10<tspan font-size="9.6" dy="-6.3">-3</tspan></text>
<text y="575.00" x="72.1" font-size="14.6" text-anchor="end">10<tspan font-size="9.6" dy="-6.3">-4</tspan></text>
<text x="79.20" y="588.20" font-size="14.6" text-anchor="middle" fill="#000">0</text>
<text x="117.05" y="588.20" font-size="14.6" text-anchor="middle" fill="#000">5</text>
<text x="154.90" y="588.20" font-size="14.6" text-anchor="middle" fill="#000">10</text>
<text x="192.75" y="588.20" font-size="14.6" text-anchor="middle" fill="#000">15</text>
<text x="230.60" y="588.20" font-size="14.6" text-anchor="middle" fill="#000">20</text>
<text x="268.45" y="588.20" font-size="14.6" text-anchor="middle" fill="#000">25</text>
<text x="306.30" y="588.20" font-size="14.6" text-anchor="middle" fill="#000">30</text>
<text x="344.15" y="588.20" font-size="14.6" text-anchor="middle" fill="#000">35</text>
<text x="134.00" y="611.20" font-size="14.4" text-anchor="start" fill="#000">Normalized distance <tspan font-style="italic">r</tspan>/<tspan font-style="italic">r</tspan><tspan font-size="9.5" font-style="italic" dy="3">NN</tspan></text>
<g transform="translate(33.00,538.60) rotate(-90)"><text x="0" y="0" font-size="14.4">Normalized correlation C<tspan font-style="italic">(r)</tspan></text><line x1="149.26" y1="-12.30" x2="157.86" y2="-12.30" stroke="#000" stroke-width="1"/></g>
<path d="M79.60,351.75 L79.98,352.68 L80.35,353.60 L80.72,354.54 L81.08,355.47 L81.44,356.40 L81.82,357.33 L82.21,358.24 L82.63,359.15 L83.07,360.04 L83.55,360.91 L84.07,361.75 L84.64,362.56 L85.25,363.34 L85.90,364.09 L86.59,364.79 L87.32,365.47 L88.08,366.11 L88.86,366.72 L89.67,367.31 L90.48,367.89 L91.30,368.46 L92.12,369.04 L92.94,369.61 L93.76,370.18 L94.58,370.76 L95.39,371.35 L96.20,371.94 L97.00,372.54 L97.80,373.15 L98.58,373.77 L99.37,374.39 L100.14,375.02 L100.92,375.65 L101.70,376.29 L102.47,376.92 L103.25,377.55 L104.04,378.17 L104.82,378.80 L105.61,379.41 L106.40,380.03 L107.19,380.64 L107.98,381.25 L108.78,381.85 L109.59,382.44 L110.41,383.02 L111.24,383.58 L112.08,384.12 L112.92,384.66 L113.78,385.18 L114.63,385.69 L115.50,386.20 L116.36,386.71 L117.23,387.21 L118.10,387.69 L118.99,388.16 L119.88,388.61 L120.78,389.04 L121.69,389.46 L122.60,389.88 L123.52,390.28 L124.43,390.69 L125.35,391.08 L126.27,391.48 L127.20,391.87 L128.12,392.25 L129.05,392.62 L129.98,392.99 L130.91,393.36 L131.85,393.72 L132.78,394.08 L133.71,394.44 L134.65,394.81 L135.58,395.17 L136.52,395.53 L137.45,395.89 L138.38,396.25 L139.32,396.61 L140.25,396.98 L141.19,397.34 L142.12,397.70 L143.05,398.06 L143.99,398.42 L144.92,398.78 L145.86,399.14 L146.79,399.50 L147.73,399.85 L148.67,400.19 L149.62,400.52 L150.57,400.84 L151.52,401.14 L152.48,401.44 L153.43,401.73 L154.39,402.02 L155.35,402.30 L156.31,402.59 L157.27,402.87 L158.23,403.16 L159.19,403.45 L160.15,403.74 L161.11,404.03 L162.07,404.32 L163.03,404.61 L163.98,404.90 L164.94,405.19 L165.90,405.49 L166.86,405.77 L167.82,406.06 L168.78,406.33 L169.75,406.60 L170.71,406.87 L171.68,407.12 L172.65,407.38 L173.62,407.63 L174.59,407.87 L175.56,408.12 L176.53,408.37 L177.50,408.61 L178.47,408.86 L179.45,409.10 L180.42,409.34 L181.39,409.58 L182.36,409.82 L183.34,410.06 L184.31,410.30 L185.28,410.54 L186.25,410.77 L187.23,411.00 L188.20,411.23 L189.18,411.46 L190.16,411.67 L191.14,411.89 L192.11,412.10 L193.09,412.31 L194.07,412.52 L195.05,412.73 L196.03,412.94 L197.01,413.15 L197.99,413.36 L198.97,413.57 L199.95,413.78 L200.93,413.98 L201.91,414.19 L202.89,414.40 L203.87,414.61 L204.85,414.82 L205.83,415.03 L206.81,415.24 L207.79,415.45 L208.77,415.66 L209.75,415.87 L210.72,416.08 L211.70,416.29 L212.68,416.51 L213.66,416.73 L214.63,416.97 L215.60,417.21 L216.57,417.46 L217.54,417.72 L218.50,417.98 L219.47,418.24 L220.44,418.51 L221.40,418.78 L222.37,419.05 L223.33,419.32 L224.29,419.59 L225.26,419.87 L226.22,420.14 L227.18,420.43 L228.14,420.71 L229.10,420.99 L230.06,421.28 L231.02,421.56 L231.98,421.85 L232.94,422.13 L233.90,422.42 L234.86,422.71 L235.82,423.00 L236.78,423.29 L237.74,423.58 L238.69,423.88 L239.65,424.17 L240.61,424.47 L241.56,424.76 L242.52,425.07 L243.47,425.37 L244.42,425.69 L245.37,426.01 L246.32,426.34 L247.26,426.67 L248.21,427.00 L249.15,427.34 L250.09,427.68 L251.03,428.02 L251.98,428.36 L252.92,428.70 L253.86,429.05 L254.79,429.40 L255.73,429.76 L256.66,430.12 L257.60,430.48 L258.53,430.85 L259.46,431.22 L260.39,431.59 L261.32,431.97 L262.24,432.36 L263.16,432.75 L264.08,433.15 L265.00,433.55 L265.91,433.96 L266.83,434.36 L267.74,434.77 L268.66,435.17 L269.58,435.56 L270.51,435.95 L271.43,436.33 L272.36,436.71 L273.29,437.08 L274.22,437.46 L275.15,437.83 L276.08,438.20 L277.00,438.58 L277.93,438.97 L278.85,439.36 L279.76,439.77 L280.67,440.18 L281.58,440.61 L282.48,441.05 L283.37,441.49 L284.27,441.94 L285.17,442.39 L286.06,442.84 L286.95,443.29 L287.84,443.75 L288.73,444.22 L289.60,444.70 L290.48,445.19 L291.34,445.69 L292.21,446.20 L293.07,446.71 L293.93,447.23 L294.79,447.74 L295.64,448.26 L296.50,448.78 L297.36,449.29 L298.22,449.81 L299.08,450.33 L299.93,450.84 L300.79,451.36 L301.65,451.87 L302.51,452.39 L303.37,452.91 L304.22,453.42 L305.08,453.94 L305.94,454.46 L306.80,454.98 L307.65,455.50 L308.51,456.02 L309.36,456.54 L310.22,457.06 L311.07,457.59 L311.92,458.12 L312.77,458.65 L313.62,459.18 L314.47,459.71 L315.32,460.24 L316.17,460.77 L317.01,461.32 L317.84,461.86 L318.67,462.43 L319.49,463.00 L320.30,463.58 L321.11,464.18 L321.91,464.78 L322.70,465.39 L323.49,466.01 L324.26,466.64 L325.02,467.29 L325.76,467.96 L326.48,468.65 L327.18,469.36 L327.87,470.08 L328.54,470.83 L329.19,471.58 L329.82,472.36 L330.43,473.15 L331.01,473.96 L331.58,474.78 L332.14,475.61 L332.70,476.44 L333.25,477.27 L333.81,478.11 L334.37,478.94 L334.93,479.76 L335.50,480.59 L336.06,481.42 L336.62,482.25 L337.17,483.09 L337.71,483.93 L338.23,484.78 L338.75,485.64 L339.26,486.50 L339.75,487.37 L340.23,488.25 L340.71,489.13 L341.18,490.02 L341.64,490.90 L342.09,491.80 L342.54,492.69 L342.98,493.59 L343.41,494.49 L343.82,495.41 L344.21,496.33 L344.59,497.25 L344.95,498.18 L345.31,499.12 L345.66,500.06 L346.00,501.00 L346.33,501.94 L346.65,502.89 L346.96,503.84 L347.26,504.80 L347.55,505.76 L347.83,506.72 L348.10,507.68 L348.36,508.65 L348.62,509.62 L348.87,510.59 L349.12,511.56 L349.36,512.53 L349.60,513.50" fill="none" stroke="#000000" stroke-width="1.25" stroke-linejoin="round" clip-path="url(#cb)"/>
<path d="M329.00,554.00 L328.84,553.01 L328.68,552.02 L328.52,551.03 L328.36,550.04 L328.21,549.05 L328.05,548.06 L327.89,547.07 L327.74,546.08 L327.59,545.09 L327.44,544.10 L327.29,543.10 L327.13,542.11 L326.98,541.12 L326.83,540.13 L326.68,539.14 L326.52,538.15 L326.36,537.16 L326.19,536.17 L326.02,535.18 L325.83,534.20 L325.64,533.22 L325.44,532.23 L325.22,531.26 L324.99,530.28 L324.75,529.31 L324.49,528.34 L324.22,527.38 L323.93,526.42 L323.62,525.47 L323.30,524.52 L322.96,523.58 L322.60,522.64 L322.22,521.72 L321.84,520.79 L321.44,519.87 L321.05,518.95 L320.66,518.02 L320.28,517.10 L319.90,516.17 L319.51,515.25 L319.10,514.34 L318.67,513.45 L318.20,512.58 L317.69,511.73 L317.13,510.90 L316.55,510.10 L315.95,509.30 L315.33,508.51 L314.72,507.72 L314.10,506.93 L313.49,506.14 L312.88,505.34 L312.27,504.54 L311.66,503.75 L311.05,502.95 L310.44,502.16 L309.82,501.37 L309.20,500.58 L308.57,499.80 L307.95,499.01 L307.31,498.24 L306.67,497.47 L306.02,496.70 L305.37,495.94 L304.70,495.19 L304.03,494.45 L303.35,493.72 L302.65,493.00 L301.95,492.29 L301.23,491.59 L300.50,490.90 L299.77,490.22 L299.03,489.54 L298.29,488.86 L297.56,488.18 L296.82,487.50 L296.08,486.82 L295.34,486.15 L294.60,485.47 L293.85,484.80 L293.11,484.13 L292.36,483.46 L291.60,482.80 L290.84,482.15 L290.08,481.50 L289.31,480.86 L288.52,480.24 L287.73,479.63 L286.93,479.03 L286.12,478.44 L285.30,477.86 L284.48,477.29 L283.66,476.71 L282.83,476.14 L282.00,475.57 L281.18,475.01 L280.34,474.45 L279.51,473.89 L278.67,473.35 L277.83,472.80 L276.98,472.26 L276.14,471.73 L275.29,471.19 L274.44,470.66 L273.59,470.13 L272.73,469.61 L271.88,469.08 L271.02,468.56 L270.16,468.05 L269.29,467.54 L268.43,467.03 L267.57,466.52 L266.70,466.02 L265.83,465.51 L264.96,465.01 L264.09,464.52 L263.22,464.02 L262.34,463.54 L261.46,463.06 L260.58,462.58 L259.70,462.11 L258.80,461.66 L257.91,461.21 L257.00,460.78 L256.09,460.37 L255.17,459.96 L254.25,459.56 L253.33,459.17 L252.41,458.78 L251.48,458.40 L250.56,458.01 L249.63,457.62 L248.71,457.24 L247.78,456.86 L246.85,456.48 L245.92,456.10 L244.99,455.73 L244.05,455.37 L243.12,455.01 L242.18,454.65 L241.25,454.29 L240.31,453.93 L239.37,453.57 L238.44,453.22 L237.50,452.86 L236.56,452.50 L235.63,452.14 L234.69,451.78 L233.75,451.43 L232.82,451.07 L231.88,450.71 L230.94,450.35 L230.01,449.99 L229.07,449.63 L228.14,449.27 L227.20,448.91 L226.27,448.54 L225.33,448.18 L224.40,447.81 L223.47,447.43 L222.55,447.05 L221.63,446.65 L220.71,446.24 L219.80,445.83 L218.89,445.41 L217.98,444.99 L217.07,444.57 L216.16,444.14 L215.25,443.72 L214.34,443.30 L213.43,442.88 L212.52,442.46 L211.61,442.04 L210.69,441.63 L209.77,441.23 L208.85,440.83 L207.93,440.43 L207.01,440.04 L206.09,439.65 L205.16,439.26 L204.24,438.86 L203.32,438.47 L202.40,438.08 L201.47,437.69 L200.55,437.29 L199.63,436.89 L198.72,436.48 L197.80,436.08 L196.89,435.66 L195.97,435.25 L195.06,434.84 L194.14,434.42 L193.23,434.01 L192.32,433.60 L191.40,433.19 L190.49,432.78 L189.57,432.37 L188.65,431.97 L187.73,431.57 L186.81,431.18 L185.89,430.78 L184.96,430.39 L184.04,430.01 L183.11,429.62 L182.19,429.23 L181.27,428.84 L180.34,428.45 L179.42,428.06 L178.50,427.66 L177.58,427.26 L176.67,426.85 L175.76,426.43 L174.85,426.00 L173.94,425.57 L173.04,425.14 L172.14,424.70 L171.23,424.27 L170.33,423.83 L169.43,423.39 L168.52,422.96 L167.62,422.52 L166.72,422.09 L165.81,421.66 L164.91,421.22 L164.00,420.79 L163.10,420.36 L162.19,419.93 L161.28,419.50 L160.38,419.08 L159.47,418.65 L158.57,418.22 L157.66,417.79 L156.76,417.35 L155.86,416.91 L154.96,416.47 L154.06,416.01 L153.18,415.55 L152.29,415.08 L151.41,414.60 L150.53,414.13 L149.64,413.65 L148.76,413.17 L147.88,412.68 L147.01,412.20 L146.13,411.72 L145.25,411.23 L144.38,410.74 L143.51,410.24 L142.64,409.74 L141.77,409.24 L140.91,408.73 L140.05,408.21 L139.19,407.70 L138.33,407.18 L137.47,406.67 L136.60,406.15 L135.74,405.64 L134.89,405.12 L134.03,404.60 L133.17,404.08 L132.31,403.56 L131.46,403.03 L130.61,402.50 L129.76,401.97 L128.91,401.43 L128.07,400.89 L127.23,400.35 L126.39,399.79 L125.56,399.24 L124.73,398.68 L123.90,398.11 L123.07,397.55 L122.24,396.99 L121.41,396.42 L120.59,395.85 L119.76,395.28 L118.94,394.70 L118.13,394.12 L117.32,393.53 L116.52,392.93 L115.72,392.32 L114.93,391.70 L114.14,391.08 L113.36,390.45 L112.59,389.81 L111.83,389.16 L111.07,388.51 L110.33,387.84 L109.59,387.16 L108.86,386.47 L108.13,385.79 L107.40,385.10 L106.67,384.41 L105.95,383.72 L105.22,383.03 L104.49,382.34 L103.75,381.66 L103.01,380.98 L102.26,380.31 L101.51,379.65 L100.76,378.99 L100.01,378.33 L99.25,377.66 L98.50,377.00 L97.76,376.33 L97.01,375.66 L96.28,374.98 L95.54,374.30 L94.81,373.61 L94.09,372.91 L93.37,372.21 L92.66,371.51 L91.95,370.80 L91.25,370.08 L90.55,369.36 L89.85,368.64 L89.16,367.92 L88.47,367.20 L87.78,366.46 L87.11,365.72 L86.46,364.97 L85.83,364.20 L85.22,363.40 L84.65,362.59 L84.10,361.75 L83.58,360.90 L83.08,360.04 L82.60,359.16 L82.16,358.27 L81.74,357.36 L81.36,356.44 L80.99,355.51 L80.63,354.57 L80.29,353.63 L79.94,352.69 L79.60,351.75" fill="none" stroke="#ff0000" stroke-width="1.5" stroke-dasharray="1.5 4.7" clip-path="url(#cb)"/>
<path d="M328.40,555.60 L328.21,554.62 L328.02,553.63 L327.83,552.65 L327.65,551.66 L327.47,550.68 L327.30,549.69 L327.13,548.70 L326.97,547.72 L326.80,546.73 L326.63,545.74 L326.46,544.76 L326.27,543.77 L326.07,542.79 L325.87,541.81 L325.65,540.83 L325.42,539.86 L325.17,538.89 L324.90,537.93 L324.61,536.97 L324.29,536.03 L323.95,535.09 L323.57,534.17 L323.17,533.25 L322.75,532.35 L322.31,531.45 L321.86,530.55 L321.41,529.66 L320.96,528.77 L320.49,527.88 L320.02,526.99 L319.54,526.12 L319.05,525.24 L318.55,524.38 L318.03,523.52 L317.50,522.67 L316.96,521.84 L316.39,521.01 L315.81,520.19 L315.22,519.39 L314.61,518.60 L313.98,517.82 L313.34,517.05 L312.69,516.29 L312.03,515.54 L311.35,514.81 L310.65,514.09 L309.96,513.37 L309.25,512.66 L308.54,511.95 L307.84,511.24 L307.13,510.53 L306.42,509.82 L305.71,509.12 L305.00,508.41 L304.28,507.71 L303.56,507.02 L302.82,506.34 L302.08,505.67 L301.33,505.01 L300.57,504.35 L299.81,503.71 L299.04,503.07 L298.27,502.43 L297.49,501.79 L296.72,501.16 L295.94,500.53 L295.16,499.90 L294.37,499.27 L293.59,498.65 L292.80,498.04 L292.00,497.43 L291.19,496.84 L290.38,496.26 L289.56,495.69 L288.72,495.14 L287.88,494.60 L287.03,494.06 L286.18,493.54 L285.32,493.02 L284.47,492.50 L283.60,491.99 L282.74,491.48 L281.87,490.99 L281.00,490.50 L280.11,490.04 L279.22,489.59 L278.31,489.17 L277.40,488.77 L276.48,488.38 L275.55,488.00 L274.62,487.63 L273.69,487.26 L272.76,486.89 L271.82,486.53 L270.89,486.17 L269.95,485.81 L269.01,485.47 L268.07,485.12 L267.13,484.79 L266.18,484.45 L265.24,484.12 L264.29,483.79 L263.35,483.46 L262.40,483.13 L261.46,482.79 L260.52,482.46 L259.57,482.11 L258.63,481.77 L257.70,481.42 L256.76,481.06 L255.82,480.71 L254.88,480.35 L253.95,479.99 L253.01,479.63 L252.08,479.27 L251.15,478.90 L250.22,478.53 L249.29,478.16 L248.36,477.78 L247.44,477.39 L246.51,477.01 L245.59,476.62 L244.66,476.24 L243.74,475.85 L242.81,475.46 L241.89,475.08 L240.97,474.69 L240.04,474.31 L239.12,473.92 L238.19,473.53 L237.27,473.15 L236.34,472.76 L235.42,472.37 L234.50,471.99 L233.57,471.60 L232.65,471.21 L231.73,470.82 L230.80,470.43 L229.88,470.04 L228.96,469.65 L228.03,469.26 L227.11,468.88 L226.19,468.49 L225.26,468.10 L224.34,467.71 L223.42,467.32 L222.49,466.93 L221.57,466.54 L220.65,466.15 L219.72,465.76 L218.80,465.37 L217.88,464.98 L216.96,464.59 L216.04,464.20 L215.12,463.80 L214.19,463.41 L213.27,463.01 L212.35,462.61 L211.43,462.22 L210.51,461.82 L209.59,461.43 L208.67,461.03 L207.75,460.64 L206.83,460.24 L205.91,459.84 L204.99,459.45 L204.07,459.05 L203.15,458.66 L202.23,458.26 L201.31,457.86 L200.39,457.47 L199.47,457.07 L198.55,456.67 L197.63,456.27 L196.71,455.88 L195.79,455.48 L194.87,455.08 L193.95,454.68 L193.03,454.28 L192.12,453.89 L191.20,453.49 L190.28,453.09 L189.36,452.69 L188.44,452.29 L187.52,451.90 L186.60,451.50 L185.68,451.10 L184.76,450.70 L183.85,450.29 L182.93,449.89 L182.02,449.48 L181.10,449.07 L180.19,448.66 L179.27,448.25 L178.36,447.83 L177.45,447.42 L176.53,447.01 L175.62,446.60 L174.71,446.18 L173.80,445.77 L172.88,445.36 L171.97,444.95 L171.06,444.54 L170.14,444.12 L169.23,443.71 L168.32,443.30 L167.41,442.88 L166.50,442.46 L165.59,442.03 L164.69,441.60 L163.79,441.17 L162.89,440.72 L161.99,440.28 L161.09,439.83 L160.20,439.38 L159.30,438.93 L158.41,438.48 L157.51,438.03 L156.62,437.58 L155.73,437.13 L154.83,436.67 L153.94,436.22 L153.05,435.75 L152.17,435.28 L151.29,434.81 L150.41,434.32 L149.54,433.82 L148.68,433.32 L147.82,432.81 L146.96,432.29 L146.11,431.76 L145.26,431.22 L144.43,430.68 L143.60,430.12 L142.77,429.55 L141.95,428.98 L141.12,428.41 L140.30,427.84 L139.48,427.26 L138.67,426.68 L137.86,426.09 L137.05,425.50 L136.24,424.91 L135.44,424.31 L134.64,423.70 L133.84,423.10 L133.04,422.50 L132.24,421.89 L131.45,421.28 L130.66,420.66 L129.88,420.04 L129.10,419.41 L128.32,418.78 L127.55,418.14 L126.78,417.50 L126.01,416.85 L125.24,416.21 L124.48,415.56 L123.73,414.90 L122.98,414.24 L122.24,413.56 L121.52,412.87 L120.81,412.17 L120.11,411.45 L119.42,410.73 L118.73,410.00 L118.05,409.27 L117.36,408.54 L116.68,407.80 L116.00,407.07 L115.32,406.33 L114.65,405.59 L113.98,404.84 L113.31,404.09 L112.65,403.34 L111.99,402.59 L111.33,401.84 L110.67,401.08 L110.01,400.33 L109.35,399.57 L108.69,398.82 L108.04,398.06 L107.38,397.30 L106.73,396.54 L106.07,395.79 L105.42,395.03 L104.77,394.27 L104.12,393.50 L103.47,392.74 L102.82,391.98 L102.17,391.21 L101.53,390.44 L100.90,389.67 L100.27,388.89 L99.65,388.11 L99.03,387.31 L98.43,386.51 L97.84,385.71 L97.24,384.90 L96.66,384.09 L96.07,383.28 L95.48,382.46 L94.90,381.65 L94.32,380.83 L93.74,380.02 L93.15,379.20 L92.57,378.39 L91.99,377.57 L91.41,376.76 L90.83,375.94 L90.25,375.12 L89.67,374.31 L89.09,373.49 L88.51,372.67 L87.94,371.85 L87.38,371.02 L86.82,370.19 L86.27,369.35 L85.72,368.51 L85.19,367.66 L84.68,366.81 L84.18,365.94 L83.71,365.06 L83.27,364.17 L82.85,363.26 L82.45,362.34 L82.08,361.42 L81.74,360.48 L81.42,359.54 L81.14,358.58 L80.89,357.62 L80.65,356.64 L80.43,355.67 L80.22,354.69 L80.02,353.71 L79.81,352.73 L79.60,351.75" fill="none" stroke="#0000ff" stroke-width="1.4" stroke-dasharray="5.3 5.1" clip-path="url(#cb)"/>
<text x="261.40" y="428.80" font-size="14" text-anchor="start" fill="#000">1%</text>
<text x="238.20" y="449.00" font-size="14" text-anchor="start" fill="#ff0000">0.1%</text>
<text x="206.20" y="492.40" font-size="14" text-anchor="start" fill="#0000ff">0.01%</text>
<text x="0.50" y="636.30" font-size="14.4" text-anchor="start" fill="#000">(c)</text>
<rect x="78.40" y="661.20" width="270.69" height="218.40" fill="none" stroke="#1a1a1a" stroke-width="1"/>
<line x1="78.40" y1="879.60" x2="78.40" y2="883.60" stroke="#1a1a1a" stroke-width="1"/>
<line x1="78.40" y1="661.20" x2="78.40" y2="657.20" stroke="#1a1a1a" stroke-width="1"/>
<line x1="117.07" y1="879.60" x2="117.07" y2="883.60" stroke="#1a1a1a" stroke-width="1"/>
<line x1="117.07" y1="661.20" x2="117.07" y2="657.20" stroke="#1a1a1a" stroke-width="1"/>
<line x1="155.74" y1="879.60" x2="155.74" y2="883.60" stroke="#1a1a1a" stroke-width="1"/>
<line x1="155.74" y1="661.20" x2="155.74" y2="657.20" stroke="#1a1a1a" stroke-width="1"/>
<line x1="194.41" y1="879.60" x2="194.41" y2="883.60" stroke="#1a1a1a" stroke-width="1"/>
<line x1="194.41" y1="661.20" x2="194.41" y2="657.20" stroke="#1a1a1a" stroke-width="1"/>
<line x1="233.08" y1="879.60" x2="233.08" y2="883.60" stroke="#1a1a1a" stroke-width="1"/>
<line x1="233.08" y1="661.20" x2="233.08" y2="657.20" stroke="#1a1a1a" stroke-width="1"/>
<line x1="271.75" y1="879.60" x2="271.75" y2="883.60" stroke="#1a1a1a" stroke-width="1"/>
<line x1="271.75" y1="661.20" x2="271.75" y2="657.20" stroke="#1a1a1a" stroke-width="1"/>
<line x1="310.42" y1="879.60" x2="310.42" y2="883.60" stroke="#1a1a1a" stroke-width="1"/>
<line x1="310.42" y1="661.20" x2="310.42" y2="657.20" stroke="#1a1a1a" stroke-width="1"/>
<line x1="349.09" y1="879.60" x2="349.09" y2="883.60" stroke="#1a1a1a" stroke-width="1"/>
<line x1="349.09" y1="661.20" x2="349.09" y2="657.20" stroke="#1a1a1a" stroke-width="1"/>
<line x1="97.74" y1="879.60" x2="97.74" y2="881.60" stroke="#1a1a1a" stroke-width="1"/>
<line x1="97.74" y1="661.20" x2="97.74" y2="659.20" stroke="#1a1a1a" stroke-width="1"/>
<line x1="136.41" y1="879.60" x2="136.41" y2="881.60" stroke="#1a1a1a" stroke-width="1"/>
<line x1="136.41" y1="661.20" x2="136.41" y2="659.20" stroke="#1a1a1a" stroke-width="1"/>
<line x1="175.07" y1="879.60" x2="175.07" y2="881.60" stroke="#1a1a1a" stroke-width="1"/>
<line x1="175.07" y1="661.20" x2="175.07" y2="659.20" stroke="#1a1a1a" stroke-width="1"/>
<line x1="213.75" y1="879.60" x2="213.75" y2="881.60" stroke="#1a1a1a" stroke-width="1"/>
<line x1="213.75" y1="661.20" x2="213.75" y2="659.20" stroke="#1a1a1a" stroke-width="1"/>
<line x1="252.41" y1="879.60" x2="252.41" y2="881.60" stroke="#1a1a1a" stroke-width="1"/>
<line x1="252.41" y1="661.20" x2="252.41" y2="659.20" stroke="#1a1a1a" stroke-width="1"/>
<line x1="291.09" y1="879.60" x2="291.09" y2="881.60" stroke="#1a1a1a" stroke-width="1"/>
<line x1="291.09" y1="661.20" x2="291.09" y2="659.20" stroke="#1a1a1a" stroke-width="1"/>
<line x1="329.75" y1="879.60" x2="329.75" y2="881.60" stroke="#1a1a1a" stroke-width="1"/>
<line x1="329.75" y1="661.20" x2="329.75" y2="659.20" stroke="#1a1a1a" stroke-width="1"/>
<line x1="78.40" y1="879.60" x2="74.40" y2="879.60" stroke="#1a1a1a" stroke-width="1"/>
<line x1="349.09" y1="879.60" x2="353.09" y2="879.60" stroke="#1a1a1a" stroke-width="1"/>
<line x1="78.40" y1="811.35" x2="74.40" y2="811.35" stroke="#1a1a1a" stroke-width="1"/>
<line x1="349.09" y1="811.35" x2="353.09" y2="811.35" stroke="#1a1a1a" stroke-width="1"/>
<line x1="78.40" y1="743.10" x2="74.40" y2="743.10" stroke="#1a1a1a" stroke-width="1"/>
<line x1="349.09" y1="743.10" x2="353.09" y2="743.10" stroke="#1a1a1a" stroke-width="1"/>
<line x1="78.40" y1="674.85" x2="74.40" y2="674.85" stroke="#1a1a1a" stroke-width="1"/>
<line x1="349.09" y1="674.85" x2="353.09" y2="674.85" stroke="#1a1a1a" stroke-width="1"/>
<line x1="78.40" y1="845.48" x2="76.40" y2="845.48" stroke="#1a1a1a" stroke-width="1"/>
<line x1="349.09" y1="845.48" x2="351.09" y2="845.48" stroke="#1a1a1a" stroke-width="1"/>
<line x1="78.40" y1="777.23" x2="76.40" y2="777.23" stroke="#1a1a1a" stroke-width="1"/>
<line x1="349.09" y1="777.23" x2="351.09" y2="777.23" stroke="#1a1a1a" stroke-width="1"/>
<line x1="78.40" y1="708.98" x2="76.40" y2="708.98" stroke="#1a1a1a" stroke-width="1"/>
<line x1="349.09" y1="708.98" x2="351.09" y2="708.98" stroke="#1a1a1a" stroke-width="1"/>
<line x1="78.40" y1="640.73" x2="76.40" y2="640.73" stroke="#1a1a1a" stroke-width="1"/>
<line x1="349.09" y1="640.73" x2="351.09" y2="640.73" stroke="#1a1a1a" stroke-width="1"/>
<text x="71.40" y="884.50" font-size="14.6" text-anchor="end" fill="#000">0</text>
<text x="71.40" y="816.25" font-size="14.6" text-anchor="end" fill="#000">5</text>
<text x="71.40" y="748.00" font-size="14.6" text-anchor="end" fill="#000">10</text>
<text x="71.40" y="679.75" font-size="14.6" text-anchor="end" fill="#000">15</text>
<text x="78.40" y="898.00" font-size="14.6" text-anchor="middle" fill="#000">0</text>
<text x="117.07" y="898.00" font-size="14.6" text-anchor="middle" fill="#000">5</text>
<text x="155.74" y="898.00" font-size="14.6" text-anchor="middle" fill="#000">10</text>
<text x="194.41" y="898.00" font-size="14.6" text-anchor="middle" fill="#000">15</text>
<text x="233.08" y="898.00" font-size="14.6" text-anchor="middle" fill="#000">20</text>
<text x="271.75" y="898.00" font-size="14.6" text-anchor="middle" fill="#000">25</text>
<text x="310.42" y="898.00" font-size="14.6" text-anchor="middle" fill="#000">30</text>
<text x="349.09" y="898.00" font-size="14.6" text-anchor="middle" fill="#000">35</text>
<text x="152.60" y="920.80" font-size="14.3" text-anchor="start" fill="#000">Applied strain <tspan font-style="italic">ε</tspan> (%)</text>
<text transform="translate(39.3,853.3) rotate(-90)" font-size="14.6">Characteristic length <tspan font-style="italic" font-size="15.5">ℓ</tspan><tspan font-size="9" font-style="italic" dy="3">long</tspan><tspan dy="-3">/</tspan><tspan font-style="italic" dx="0.6">r</tspan><tspan font-size="9.8" font-style="italic" dy="3">NN</tspan></text>
<path d="M79.17,811.35 L79.95,848.21 L80.72,862.08 L81.49,849.99 L82.27,861.11 L83.04,845.89 L83.81,846.08 L84.59,844.27 L85.36,844.10 L86.13,848.42 L86.91,853.78 L87.68,853.09 L88.45,839.35 L89.23,853.30 L90.00,852.50 L90.77,854.59 L91.55,853.81 L92.32,852.72 L93.09,849.20 L93.87,852.16 L94.64,852.52 L95.41,853.61 L96.19,850.33 L96.96,856.43 L97.74,850.62 L98.51,839.45 L99.28,852.85 L100.06,850.33 L100.83,826.72 L101.60,852.78 L102.38,857.06 L103.15,851.98 L103.92,834.85 L104.70,830.93 L105.47,853.37 L106.24,844.90 L107.02,848.19 L107.79,851.11 L108.56,857.37 L109.34,841.45 L110.11,851.51 L110.88,845.98 L111.66,846.74 L112.43,831.98 L113.20,836.01 L113.98,851.57 L114.75,848.41 L115.52,838.37 L116.30,851.92 L117.07,848.48 L117.84,844.51 L118.62,852.95 L119.39,851.83 L120.16,853.64 L120.94,844.29 L121.71,847.41 L122.48,837.57 L123.26,842.87 L124.03,839.47 L124.80,844.22 L125.58,837.77 L126.35,843.83 L127.12,847.93 L127.90,834.41 L128.67,834.17 L129.44,823.43 L130.22,841.90 L130.99,845.04 L131.76,849.04 L132.54,860.12 L133.31,849.56 L134.08,839.07 L134.86,845.29 L135.63,853.32 L136.41,838.25 L137.18,843.35 L137.95,842.51 L138.73,842.56 L139.50,841.04 L140.27,836.28 L141.05,847.35 L141.82,841.25 L142.59,841.67 L143.37,830.06 L144.14,842.83 L144.91,825.73 L145.69,831.86 L146.46,823.90 L147.23,839.97 L148.01,831.12 L148.78,833.08 L149.55,842.61 L150.33,837.27 L151.10,837.05 L151.87,837.26 L152.65,836.21 L153.42,837.57 L154.19,834.23 L154.97,830.27 L155.74,835.25 L156.51,839.13 L157.29,824.42 L158.06,829.82 L158.83,827.33 L159.61,827.64 L160.38,828.62 L161.15,821.75 L161.93,826.50 L162.70,823.19 L163.47,830.17 L164.25,830.92 L165.02,823.19 L165.79,808.87 L166.57,815.90 L167.34,806.05 L168.11,811.90 L168.89,811.25 L169.66,815.62 L170.43,811.76 L171.21,796.15 L171.98,792.98 L172.75,799.01 L173.53,795.07 L174.30,781.13 L175.07,788.77 L175.85,776.98 L176.62,787.49 L177.40,774.95 L178.17,764.90 L178.94,767.04 L179.72,775.11 L180.49,779.55 L181.26,784.55 L182.04,787.00 L182.81,780.68 L183.58,782.69 L184.36,790.95 L185.13,804.02 L185.90,799.78 L186.68,793.22 L187.45,794.41 L188.22,805.07 L189.00,789.63 L189.77,772.33 L190.54,798.09 L191.32,789.75 L192.09,778.06 L192.86,792.79 L193.64,794.81 L194.41,791.29 L195.18,788.43 L195.96,795.98 L196.73,786.79 L197.50,808.02 L198.28,791.41 L199.05,792.39 L199.82,796.94 L200.60,793.79 L201.37,796.51 L202.14,787.65 L202.92,800.16 L203.69,798.26 L204.46,808.17 L205.24,807.19 L206.01,800.46 L206.78,809.66 L207.56,805.26 L208.33,808.41 L209.10,802.48 L209.88,797.30 L210.65,790.71 L211.42,811.83 L212.20,801.00 L212.97,792.04 L213.75,787.40 L214.52,786.86 L215.29,808.26 L216.07,803.60 L216.84,795.17 L217.61,791.64 L218.39,796.07 L219.16,796.51 L219.93,796.62 L220.71,804.08 L221.48,797.73 L222.25,792.08 L223.03,800.04 L223.80,789.36 L224.57,818.31 L225.35,802.20 L226.12,785.11 L226.89,789.36 L227.67,785.26 L228.44,794.35 L229.21,804.98 L229.99,800.76 L230.76,784.83 L231.53,808.21 L232.31,803.67 L233.08,808.68 L233.85,800.42 L234.63,798.81 L235.40,791.19 L236.17,801.03 L236.95,783.03 L237.72,789.29 L238.49,798.37 L239.27,803.25 L240.04,807.60 L240.81,795.93 L241.59,781.06 L242.36,795.92 L243.13,804.15 L243.91,797.93 L244.68,800.99 L245.45,804.46 L246.23,812.50 L247.00,799.73 L247.77,787.12 L248.55,788.04 L249.32,790.00 L250.09,796.06 L250.87,794.76 L251.64,790.64 L252.41,798.28 L253.19,796.58 L253.96,801.58 L254.74,790.64 L255.51,805.06 L256.28,794.49 L257.06,792.18 L257.83,792.15 L258.60,793.15 L259.38,802.14 L260.15,803.84 L260.92,802.93 L261.70,802.62 L262.47,808.29 L263.24,803.81 L264.02,804.86 L264.79,807.36 L265.56,797.82 L266.34,805.33 L267.11,798.59 L267.88,788.78 L268.66,786.24 L269.43,798.58 L270.20,792.33 L270.98,797.56 L271.75,782.05 L272.52,786.09 L273.30,790.46 L274.07,800.47 L274.84,802.18 L275.62,796.35 L276.39,800.13 L277.16,802.12 L277.94,795.23 L278.71,809.17 L279.48,816.24 L280.26,809.82 L281.03,810.48 L281.80,802.71 L282.58,808.12 L283.35,803.83 L284.12,817.42 L284.90,792.69 L285.67,798.57 L286.44,808.90 L287.22,801.29 L287.99,793.33 L288.76,795.22 L289.54,802.19 L290.31,797.33 L291.09,794.55 L291.86,809.83 L292.63,812.86 L293.41,806.54 L294.18,793.74 L294.95,788.50 L295.73,797.59 L296.50,787.66 L297.27,790.00 L298.05,797.81 L298.82,803.19 L299.59,802.47 L300.37,796.44 L301.14,785.34 L301.91,788.01 L302.69,803.98 L303.46,804.92 L304.23,789.47 L305.01,792.46 L305.78,801.27 L306.55,789.75 L307.33,783.27 L308.10,786.79 L308.87,792.24 L309.65,783.36 L310.42,795.37 L311.19,798.00 L311.97,800.64 L312.74,779.50 L313.51,775.52 L314.29,791.35 L315.06,788.02 L315.83,788.61 L316.61,784.90 L317.38,782.46 L318.15,785.95 L318.93,792.15 L319.70,795.99 L320.47,800.16 L321.25,812.62 L322.02,794.85 L322.79,798.64 L323.57,792.49 L324.34,792.90 L325.11,799.91 L325.89,796.64 L326.66,789.40 L327.43,790.53 L328.21,798.57 L328.98,798.41 L329.75,788.41 L330.53,789.92 L331.30,789.54 L332.08,793.06 L332.85,786.59 L333.62,790.82 L334.40,772.76 L335.17,793.45 L335.94,797.14 L336.72,779.64 L337.49,790.76 L338.26,797.08 L339.04,788.45 L339.81,808.18 L340.58,789.22 L341.36,790.43 L342.13,788.83 L342.90,796.86 L343.68,781.84 L344.45,787.99 L345.22,791.25 L346.00,788.82 L346.77,797.72 L347.54,793.42 L348.32,803.45 L349.09,801.58" fill="none" stroke="#ff0000" stroke-width="1.5" stroke-dasharray="1.5 4.7" clip-path="url(#cc)"/>
<path d="M78.40,852.30 L79.17,855.83 L79.95,860.21 L80.72,849.78 L81.49,844.87 L82.27,847.83 L83.04,865.28 L83.81,862.67 L84.59,850.84 L85.36,840.39 L86.13,859.64 L86.91,846.88 L87.68,842.90 L88.45,851.72 L89.23,859.58 L90.00,857.28 L90.77,855.56 L91.55,847.87 L92.32,844.59 L93.09,857.01 L93.87,854.06 L94.64,853.17 L95.41,853.59 L96.19,844.68 L96.96,853.07 L97.74,822.95 L98.51,859.25 L99.28,852.40 L100.06,856.39 L100.83,836.76 L101.60,848.09 L102.38,849.37 L103.15,850.18 L103.92,856.65 L104.70,853.95 L105.47,807.25 L106.24,842.93 L107.02,847.59 L107.79,856.53 L108.56,852.30 L109.34,812.72 L110.11,858.16 L110.88,847.41 L111.66,842.71 L112.43,853.18 L113.20,831.46 L113.98,843.56 L114.75,851.15 L115.52,832.52 L116.30,849.87 L117.07,847.32 L117.84,856.50 L118.62,854.26 L119.39,834.30 L120.16,851.03 L120.94,851.71 L121.71,848.89 L122.48,850.96 L123.26,853.12 L124.03,852.18 L124.80,767.67 L125.58,833.40 L126.35,837.25 L127.12,824.80 L127.90,847.74 L128.67,844.30 L129.44,842.59 L130.22,840.01 L130.99,837.60 L131.76,851.92 L132.54,833.49 L133.31,842.43 L134.08,845.93 L134.86,841.92 L135.63,845.94 L136.41,812.72 L137.18,845.60 L137.95,852.27 L138.73,849.24 L139.50,837.89 L140.27,837.32 L141.05,846.84 L141.82,852.89 L142.59,842.12 L143.37,838.03 L144.14,840.74 L144.91,845.17 L145.69,840.58 L146.46,841.68 L147.23,838.53 L148.01,834.30 L148.78,838.37 L149.55,818.86 L150.33,833.19 L151.10,833.99 L151.87,838.87 L152.65,836.36 L153.42,831.43 L154.19,830.63 L154.97,834.52 L155.74,834.33 L156.51,838.45 L157.29,830.94 L158.06,824.15 L158.83,826.11 L159.61,830.60 L160.38,824.34 L161.15,826.32 L161.93,822.27 L162.70,831.73 L163.47,827.70 L164.25,819.35 L165.02,815.21 L165.79,824.48 L166.57,823.34 L167.34,808.77 L168.11,813.89 L168.89,816.46 L169.66,812.01 L170.43,816.14 L171.21,817.89 L171.98,803.82 L172.75,800.59 L173.53,798.12 L174.30,790.72 L175.07,794.96 L175.85,790.59 L176.62,798.82 L177.40,774.01 L178.17,766.53 L178.94,764.94 L179.72,793.38 L180.49,781.90 L181.26,779.72 L182.04,791.49 L182.81,800.75 L183.58,781.22 L184.36,800.46 L185.13,794.62 L185.90,794.39 L186.68,794.18 L187.45,786.61 L188.22,784.59 L189.00,805.41 L189.77,796.74 L190.54,784.69 L191.32,788.95 L192.09,796.98 L192.86,787.52 L193.64,796.92 L194.41,796.27 L195.18,784.05 L195.96,789.99 L196.73,780.29 L197.50,788.71 L198.28,795.82 L199.05,789.24 L199.82,797.21 L200.60,797.98 L201.37,798.00 L202.14,802.82 L202.92,798.12 L203.69,798.19 L204.46,820.90 L205.24,807.04 L206.01,796.32 L206.78,798.43 L207.56,800.76 L208.33,801.07 L209.10,805.22 L209.88,806.08 L210.65,786.15 L211.42,796.57 L212.20,793.82 L212.97,793.98 L213.75,819.54 L214.52,802.49 L215.29,805.26 L216.07,797.44 L216.84,797.67 L217.61,808.24 L218.39,794.70 L219.16,792.78 L219.93,810.45 L220.71,799.19 L221.48,798.18 L222.25,813.64 L223.03,811.30 L223.80,797.49 L224.57,809.05 L225.35,816.52 L226.12,801.69 L226.89,819.54 L227.67,802.93 L228.44,798.51 L229.21,799.19 L229.99,793.76 L230.76,797.83 L231.53,799.80 L232.31,806.64 L233.08,789.47 L233.85,805.18 L234.63,795.65 L235.40,797.76 L236.17,800.73 L236.95,808.24 L237.72,812.43 L238.49,800.48 L239.27,775.86 L240.04,796.48 L240.81,806.71 L241.59,820.90 L242.36,817.86 L243.13,802.49 L243.91,792.17 L244.68,789.92 L245.45,799.12 L246.23,790.04 L247.00,784.82 L247.77,800.05 L248.55,791.71 L249.32,798.69 L250.09,791.76 L250.87,808.65 L251.64,796.02 L252.41,790.16 L253.19,790.28 L253.96,798.54 L254.74,816.25 L255.51,801.08 L256.28,819.39 L257.06,802.81 L257.83,779.96 L258.60,796.01 L259.38,805.28 L260.15,796.62 L260.92,818.18 L261.70,810.91 L262.47,801.69 L263.24,783.89 L264.02,796.34 L264.79,797.32 L265.56,788.31 L266.34,791.25 L267.11,791.77 L267.88,811.95 L268.66,809.91 L269.43,785.80 L270.20,798.12 L270.98,808.30 L271.75,793.42 L272.52,798.02 L273.30,817.02 L274.07,809.88 L274.84,812.54 L275.62,813.45 L276.39,809.91 L277.16,814.27 L277.94,807.80 L278.71,801.41 L279.48,803.95 L280.26,804.63 L281.03,795.86 L281.80,804.57 L282.58,802.74 L283.35,810.63 L284.12,814.48 L284.90,801.92 L285.67,811.96 L286.44,804.98 L287.22,798.13 L287.99,807.75 L288.76,788.39 L289.54,792.84 L290.31,808.49 L291.09,787.69 L291.86,829.10 L292.63,793.78 L293.41,805.31 L294.18,800.26 L294.95,803.96 L295.73,799.57 L296.50,806.32 L297.27,805.42 L298.05,806.82 L298.82,818.15 L299.59,808.77 L300.37,797.96 L301.14,807.86 L301.91,807.25 L302.69,787.78 L303.46,809.66 L304.23,800.60 L305.01,793.46 L305.78,791.22 L306.55,792.61 L307.33,793.37 L308.10,796.26 L308.87,804.65 L309.65,814.54 L310.42,785.22 L311.19,797.26 L311.97,794.81 L312.74,803.24 L313.51,796.13 L314.29,806.38 L315.06,802.98 L315.83,794.38 L316.61,780.55 L317.38,788.38 L318.15,777.47 L318.93,789.63 L319.70,791.94 L320.47,782.48 L321.25,792.42 L322.02,805.68 L322.79,791.94 L323.57,790.79 L324.34,792.28 L325.11,790.39 L325.89,796.39 L326.66,795.30 L327.43,804.59 L328.21,789.94 L328.98,799.03 L329.75,785.36 L330.53,792.16 L331.30,800.68 L332.08,789.75 L332.85,790.77 L333.62,790.32 L334.40,793.15 L335.17,798.28 L335.94,782.72 L336.72,804.31 L337.49,803.40 L338.26,784.88 L339.04,778.59 L339.81,806.19 L340.58,781.13 L341.36,771.76 L342.13,807.89 L342.90,800.65 L343.68,803.17 L344.45,794.39 L345.22,796.04 L346.00,784.39 L346.77,791.00 L347.54,786.84 L348.32,785.21 L349.09,801.66" fill="none" stroke="#0000ff" stroke-width="1.4" stroke-dasharray="5.3 5.1" clip-path="url(#cc)"/>
<path d="M85.80,849.00 L86.20,847.90 L87.30,857.40 L88.40,851.80 L89.50,861.90 L90.60,855.20 L91.80,861.90 L92.90,856.30 L94.00,859.60 L95.10,854.00 L96.20,857.40 L97.40,858.50 L98.50,860.20 L99.60,860.80 L100.70,861.90 L101.80,862.50 L103.00,861.30 L103.50,857.40 L104.10,852.90 L105.20,851.80 L106.30,852.40 L107.50,853.50 L108.60,855.20 L109.70,852.90 L110.80,850.70 L111.90,849.60 L113.10,851.20 L114.20,852.90 L115.30,855.00 L116.40,852.90 L117.50,852.10 L120.00,848.70 L122.60,846.20 L125.10,845.40 L127.60,843.70 L129.30,846.20 L131.00,850.40 L132.30,853.40 L133.80,851.30 L135.20,847.10 L136.80,842.00 L138.50,839.50 L140.20,837.80 L141.90,837.30 L143.60,839.50 L145.30,840.70 L146.90,841.20 L148.60,838.70 L150.30,834.50 L152.00,826.90 L153.70,825.20 L155.30,826.00 L156.20,818.50 L157.90,816.00 L159.00,817.60 L160.00,813.40 L161.20,807.60 L162.30,804.60 L163.40,796.70 L164.30,785.50 L165.70,783.80 L167.40,779.90 L168.50,775.40 L169.60,768.70 L170.50,760.90 L171.30,753.00 L172.20,745.20 L173.50,741.20 L175.80,739.00 L177.50,735.60 L179.10,732.30 L180.80,729.50 L182.50,727.40 L183.60,728.40 L185.30,731.70 L187.00,735.30 L188.10,735.30 L190.20,734.00 L192.20,735.80 L193.90,734.80 L195.70,732.80 L197.70,729.70 L199.20,728.20 L200.80,730.80 L202.30,732.30 L204.00,730.80 L205.80,731.50 L207.80,729.00 L209.80,729.70 L211.60,731.50 L213.40,730.80 L214.90,734.00 L216.60,732.30 L217.90,735.30 L219.70,736.60 L220.90,730.20 L222.40,721.40 L224.20,719.70 L225.50,720.70 L227.50,722.70 L228.70,723.90 L230.50,729.00 L232.30,730.80 L234.30,729.70 L236.00,730.80 L237.60,721.40 L239.30,717.10 L241.10,718.10 L242.60,722.20 L244.40,724.70 L246.10,725.20 L247.60,718.10 L249.40,717.10 L250.70,717.60 L251.90,710.10 L253.70,712.60 L255.70,720.20 L257.50,725.40 L260.30,725.60 L262.50,722.90 L264.30,718.40 L266.20,717.60 L267.80,721.60 L269.60,722.10 L271.50,719.00 L273.10,715.80 L275.00,717.60 L276.80,714.20 L278.40,716.80 L280.30,720.30 L281.60,728.30 L283.70,723.70 L285.60,725.60 L287.50,724.30 L289.60,726.40 L291.70,728.30 L293.60,733.60 L295.40,734.90 L297.00,732.30 L298.40,737.00 L299.70,740.80 L301.60,732.30 L302.90,723.70 L305.00,725.60 L306.90,721.60 L308.80,716.30 L310.90,714.20 L313.00,712.30 L314.10,709.60 L315.70,712.30 L317.50,714.20 L319.40,713.10 L321.50,711.50 L323.70,709.60 L325.50,712.30 L327.40,713.10 L329.50,714.20 L330.80,715.00 L332.70,709.60 L334.30,706.20 L336.20,708.30 L338.00,711.50 L339.60,714.20 L341.50,716.80 L343.30,720.30 L344.90,724.30 L346.00,719.00 L347.60,714.20 L349.50,715.00" fill="none" stroke="#000000" stroke-width="1.25" stroke-linejoin="round" clip-path="url(#cc)"/>
<line x1="82.90" y1="675.40" x2="115.60" y2="675.40" stroke="#000000" stroke-width="1.3"/>
<line x1="82.80" y1="694.60" x2="115.60" y2="694.60" stroke="#ff0000" stroke-width="1.5" stroke-dasharray="1.5 4.7"/>
<line x1="82.80" y1="714.30" x2="115.60" y2="714.30" stroke="#0000ff" stroke-width="1.4" stroke-dasharray="5.3 5.1"/>
<text x="119.30" y="679.60" font-size="13.5" font-family="Liberation Serif, serif" font-style="italic" fill="#2a2a2a">Δ</text><text transform="translate(127.90,679.60) scale(1.2,0.92)" font-size="14" font-family="Liberation Serif, serif" font-style="italic" fill="#2a2a2a">ε</text><text x="137.85" y="679.60" font-size="14">= 1%</text>
<text x="119.30" y="698.80" font-size="13.5" font-family="Liberation Serif, serif" font-style="italic" fill="#2a2a2a">Δ</text><text transform="translate(127.90,698.80) scale(1.2,0.92)" font-size="14" font-family="Liberation Serif, serif" font-style="italic" fill="#2a2a2a">ε</text><text x="137.85" y="698.80" font-size="14">= 0.1%</text>
<text x="119.30" y="718.30" font-size="13.5" font-family="Liberation Serif, serif" font-style="italic" fill="#2a2a2a">Δ</text><text transform="translate(127.90,718.30) scale(1.2,0.92)" font-size="14" font-family="Liberation Serif, serif" font-style="italic" fill="#2a2a2a">ε</text><text x="137.85" y="718.30" font-size="14">= 0.01%</text>
</svg></body></html>
